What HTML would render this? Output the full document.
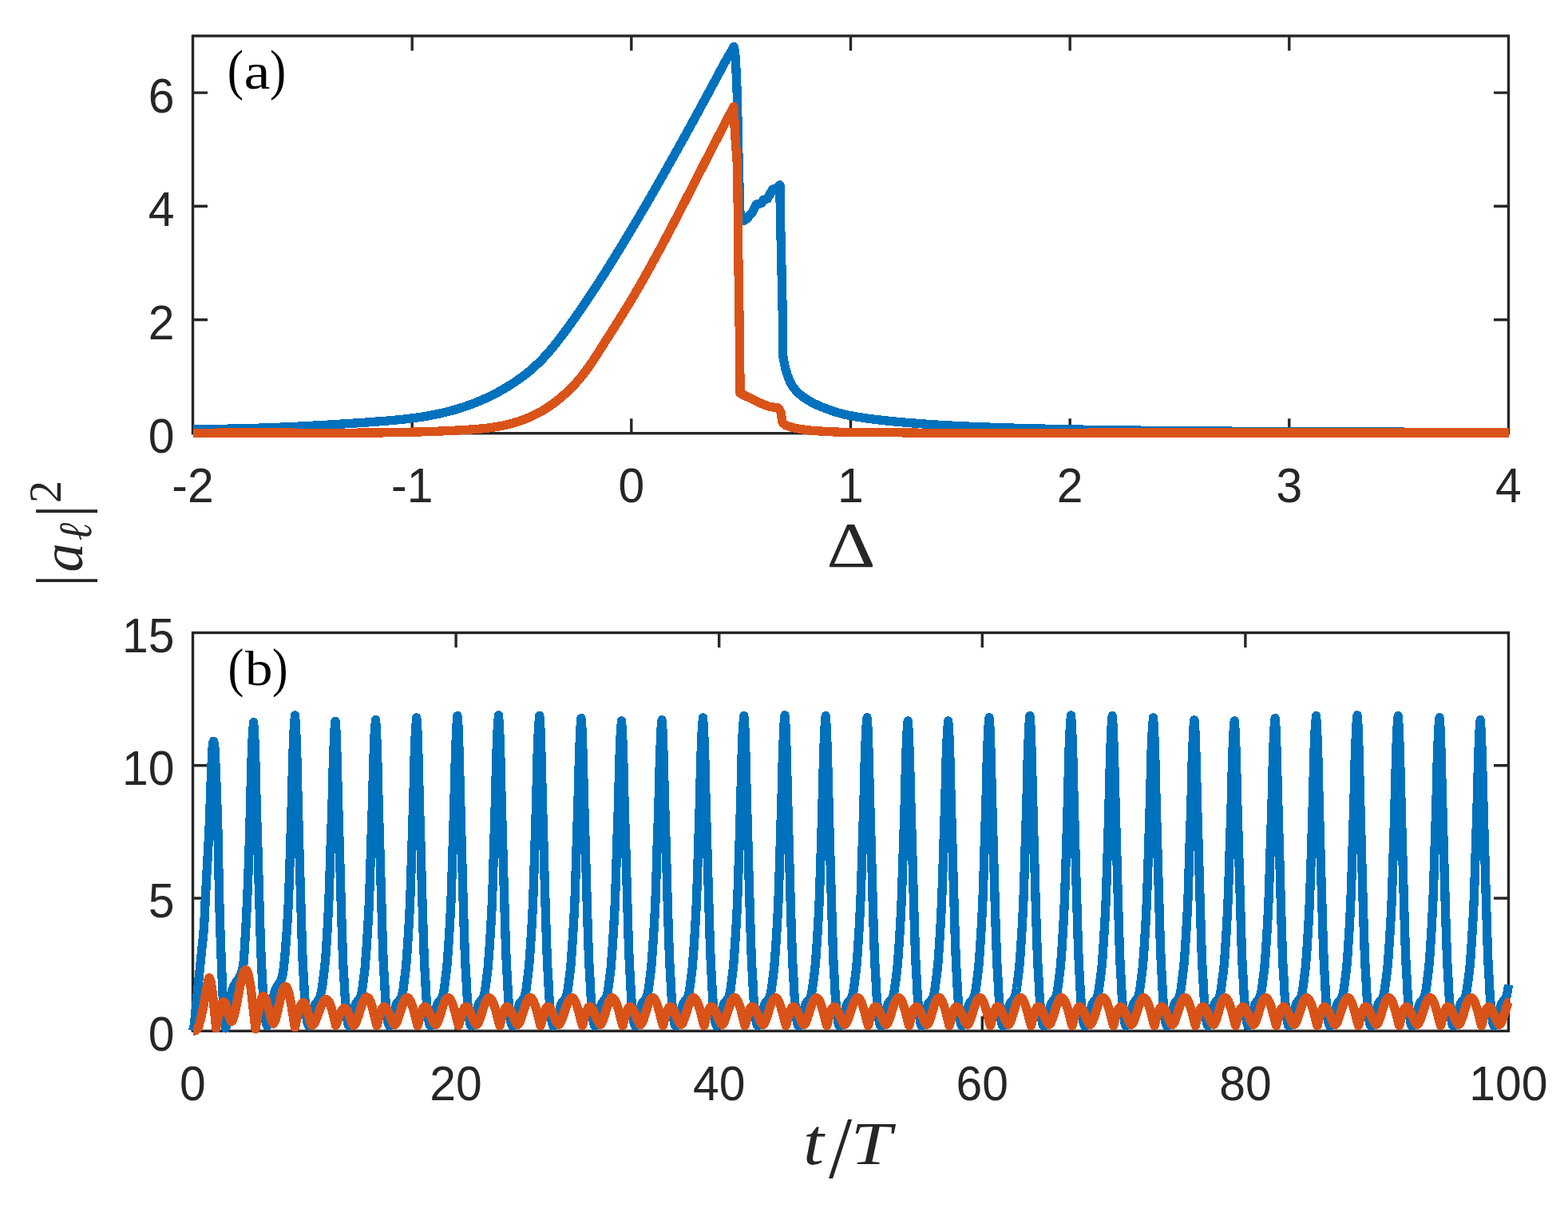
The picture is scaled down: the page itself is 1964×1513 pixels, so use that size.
<!DOCTYPE html>
<html lang="en">
<head>
<meta charset="utf-8">
<title>Figure: |a_l|^2 versus detuning and time</title>
<style>
html,body{margin:0;padding:0;background:#fff;}
body{width:1964px;height:1513px;overflow:hidden;}
svg{display:block;}
.ax{fill:none;stroke:#262626;stroke-width:3.4;stroke-linecap:butt;stroke-linejoin:miter;}
.tk{fill:none;stroke:#262626;stroke-width:3.4;stroke-linecap:butt;}
.c1{fill:none;stroke:#0072BD;stroke-width:11.3;stroke-linejoin:round;stroke-linecap:butt;shape-rendering:crispEdges;}
.c2{fill:none;stroke:#D95319;stroke-width:11.3;stroke-linejoin:round;stroke-linecap:butt;shape-rendering:crispEdges;}
text{fill:#262626;}
.tl{font-family:"Liberation Sans",Arial,Helvetica,sans-serif;font-size:62px;}
.ser{font-family:"Liberation Serif","Times New Roman",serif;}
.it{font-family:"Liberation Serif","Times New Roman",serif;font-style:italic;}
.lab{fill:#000;}
</style>
</head>
<body>
<svg xmlns="http://www.w3.org/2000/svg" width="1964" height="1513" viewBox="0 0 1964 1513">
<rect x="0" y="0" width="1964" height="1513" fill="#ffffff"/>
<g id="axes-a">
<rect class="ax" x="241.5" y="45" width="1648" height="497.7"/>
<path class="tk" d="M516.2,542.7 v-18.5 M516.2,45 v18.5 M790.8,542.7 v-18.5 M790.8,45 v18.5 M1065.5,542.7 v-18.5 M1065.5,45 v18.5 M1340.2,542.7 v-18.5 M1340.2,45 v18.5 M1614.8,542.7 v-18.5 M1614.8,45 v18.5 M241.5,400.5 h18.5 M1889.5,400.5 h-18.5 M241.5,258.3 h18.5 M1889.5,258.3 h-18.5 M241.5,116.1 h18.5 M1889.5,116.1 h-18.5"/>
</g>
<g id="curves-a">
<path class="c1" d="M241.5,537.4 L244.5,537.4 247.5,537.4 250.5,537.4 253.5,537.4 256.5,537.4 259.5,537.4 262.5,537.4 265.5,537.4
268.5,537.4 271.5,537.3 274.5,537.3 277.5,537.3 280.5,537.2 283.5,537.2 286.5,537.1 289.5,537.1 292.5,537
295.5,536.9 298.6,536.9 301.6,536.8 304.6,536.7 307.6,536.7 310.6,536.6 313.6,536.5 316.6,536.4 319.6,536.3
322.6,536.2 325.6,536.1 328.6,536 331.6,535.9 334.6,535.8 337.6,535.7 340.6,535.6 343.6,535.5 346.6,535.3
349.6,535.2 352.6,535.1 355.6,535 358.6,534.8 361.6,534.7 364.6,534.6 367.6,534.4 370.6,534.3 373.6,534.1
376.6,534 379.6,533.8 382.6,533.7 385.6,533.5 388.6,533.3 391.6,533.2 394.6,533 397.6,532.9 400.6,532.7
403.6,532.5 406.6,532.3 409.7,532.2 412.7,532 415.7,531.8 418.7,531.6 421.7,531.4 424.7,531.2 427.7,531.1
430.7,530.9 433.7,530.7 436.7,530.5 439.7,530.3 442.7,530.1 445.7,529.9 448.7,529.7 451.7,529.5 454.7,529.3
457.7,529.1 460.7,528.9 463.7,528.7 466.7,528.4 469.7,528.2 472.7,528 475.7,527.8 478.7,527.6 481.7,527.3
484.7,527.1 487.7,526.8 490.7,526.6 493.7,526.3 496.7,526 499.7,525.7 502.7,525.4 505.7,525.1 508.7,524.8
511.7,524.4 514.7,524 517.7,523.6 520.8,523.2 523.8,522.8 526.8,522.4 529.8,521.9 532.8,521.4 535.8,520.9
538.8,520.4 541.8,519.8 544.8,519.2 547.8,518.6 550.8,517.9 553.8,517.3 556.8,516.6 559.8,515.8 562.8,515.1
565.8,514.3 568.8,513.4 571.8,512.6 574.8,511.7 577.8,510.7 580.8,509.8 583.8,508.7 586.8,507.7 589.8,506.6
592.8,505.5 595.8,504.3 598.8,503.1 601.8,501.8 604.8,500.5 607.8,499.2 610.8,497.8 613.8,496.3 616.8,494.9
619.8,493.3 622.8,491.7 625.8,490.1 628.8,488.4 631.9,486.6 634.9,484.8 637.9,483 640.9,481.1 643.9,479.1
646.9,477.1 649.9,475 652.9,472.8 655.9,470.6 658.9,468.3 661.9,465.9 664.9,463.4 667.9,460.8 670.9,458
673.9,455.2 676.9,452.3 679.9,449.2 682.9,446 685.9,442.6 688.9,439.2 691.9,435.6 694.9,431.9 697.9,428.1
700.9,424.2 703.9,420.3 706.9,416.3 709.9,412.3 712.9,408.2 715.9,404 718.9,399.8 721.9,395.5 724.9,391.2
727.9,386.9 730.9,382.4 733.9,378 736.9,373.5 739.9,369 743,364.4 746,359.8 749,355.1 752,350.5 755,345.8
758,341.1 761,336.3 764,331.5 767,326.7 770,321.9 773,317 776,312.1 779,307.2 782,302.3 785,297.3 788,292.3
791,287.3 794,282.3 797,277.2 800,272.1 803,267 806,261.9 809,256.8 812,251.6 815,246.4 818,241.2 821,236
824,230.7 827,225.5 830,220.2 833,214.9 836,209.5 839,204.2 842,198.9 845,193.5 848,188.1 851,182.7
854.1,177.3 857.1,171.8 860.1,166.4 863.1,160.9 866.1,155.5 869.1,150 872.1,144.5 875.1,139 878.1,133.4
881.1,127.9 884.1,122.4 887.1,116.8 890.1,111.2 893.1,105.7 896.1,100.1 899.1,94.5 902.1,88.9 905.1,83.3
908.1,77.6 914,67.6 919.3,58.4 920.6,66 921.5,78 922.5,98 923.3,119.8 924.2,161.5 925.1,203.2 925.9,230
926.9,265 927.4,276.6 933,276 937.2,271.9 942.2,266.1 947.2,256 953.9,254.4 956.4,250.2 961.4,248.9
967.3,237.7 973.1,235.2 976.9,231.8 977.4,273.5 978.1,298.5 978.5,315 980.4,400 980.6,430 980.8,446.7
983.7,461.3 984.3,463.4 986.7,471.1 989.7,478.4 990.6,480.1 992.7,483.7 995.7,487.7 996.4,488.4 998.7,490.9
1001.7,493.7 1004.7,496.2 1007.7,498.4 1008.1,498.6 1010.7,500.3 1013.7,502.2 1016.7,503.9 1019.7,505.5
1022.7,506.9 1025.7,508.3 1028.2,509.3 1028.7,509.5 1031.7,510.7 1034.7,511.8 1037.7,512.9 1040.7,514
1043.7,515 1046.7,516 1049.7,516.9 1052.7,517.7 1055.7,518.5 1058.7,519.3 1061.7,519.9 1064,520.4 1064.7,520.5
1067.7,521.1 1070.7,521.7 1073.7,522.2 1076.7,522.7 1079.7,523.1 1082.7,523.6 1085.7,524 1088.7,524.4
1091.7,524.8 1094.7,525.2 1097.7,525.5 1100.7,525.9 1103.7,526.2 1106.7,526.6 1109.7,526.9 1112.7,527.2
1115.7,527.5 1118.7,527.8 1121.7,528.1 1124.7,528.4 1127.7,528.6 1130.7,528.9 1133.7,529.2 1136.7,529.4
1139.7,529.7 1142.7,529.9 1145.7,530.1 1147.9,530.3 1148.7,530.3 1151.7,530.6 1154.7,530.8 1157.7,531
1160.7,531.2 1163.7,531.4 1166.7,531.6 1169.7,531.8 1172.7,532 1175.7,532.2 1178.7,532.3 1181.7,532.5
1184.7,532.7 1187.7,532.8 1189.1,532.9 1190.7,533 1193.7,533.2 1196.7,533.3 1199.7,533.5 1202.7,533.6
1205.7,533.8 1208.7,533.9 1211.7,534 1214.7,534.2 1217.7,534.3 1220.7,534.4 1223.7,534.6 1226.7,534.7
1229.7,534.8 1230.3,534.8 1232.7,534.9 1235.7,535 1238.7,535.1 1241.7,535.2 1244.7,535.4 1247.7,535.5
1250.7,535.6 1253.7,535.7 1256.7,535.8 1259.7,535.9 1262.7,535.9 1265.7,536 1268.7,536.1 1271.5,536.2
1274.7,536.3 1277.7,536.4 1280.7,536.5 1283.7,536.5 1286.7,536.6 1289.7,536.7 1292.7,536.8 1295.7,536.9
1298.7,536.9 1301.7,537 1304.7,537.1 1307.7,537.1 1310.7,537.2 1312.7,537.3 1313.7,537.3 1316.7,537.3
1319.7,537.4 1322.7,537.5 1325.7,537.5 1328.7,537.6 1331.7,537.7 1334.7,537.7 1337.7,537.8 1340.7,537.8
1343.7,537.9 1346.6,537.9 1349.6,538 1352.6,538.1 1353.9,538.1 1355.6,538.1 1358.6,538.2 1361.6,538.2
1364.6,538.3 1367.6,538.3 1370.6,538.4 1373.6,538.4 1376.6,538.5 1379.6,538.5 1382.6,538.5 1385.6,538.6
1388.6,538.6 1391.6,538.7 1394.6,538.7 1395.1,538.7 1397.6,538.8 1400.6,538.8 1403.6,538.8 1406.6,538.9
1409.6,538.9 1412.6,539 1415.6,539 1418.6,539 1421.6,539.1 1424.6,539.1 1427.6,539.1 1430.6,539.2 1433.6,539.2
1436.3,539.2 1439.6,539.3 1442.6,539.3 1445.6,539.3 1448.6,539.4 1451.6,539.4 1454.6,539.4 1457.6,539.5
1460.6,539.5 1463.6,539.5 1466.6,539.5 1469.6,539.6 1472.6,539.6 1475.6,539.6 1477.5,539.6 1478.6,539.7
1481.6,539.7 1484.6,539.7 1487.6,539.7 1490.6,539.8 1493.6,539.8 1496.6,539.8 1499.6,539.8 1502.6,539.9
1505.6,539.9 1508.6,539.9 1511.6,539.9 1514.6,540 1517.6,540 1518.7,540 1520.6,540 1523.6,540 1526.6,540
1529.6,540.1 1532.6,540.1 1535.6,540.1 1538.6,540.1 1541.6,540.1 1544.6,540.2 1547.6,540.2 1550.6,540.2
1553.6,540.2 1556.6,540.2 1559.9,540.3 1562.6,540.3 1565.6,540.3 1568.6,540.3 1571.6,540.3 1574.6,540.3
1577.6,540.4 1580.6,540.4 1583.6,540.4 1586.6,540.4 1589.6,540.4 1592.6,540.4 1595.6,540.5 1598.6,540.5
1601.1,540.5 1601.6,540.5 1604.6,540.5 1607.6,540.5 1610.6,540.5 1613.6,540.5 1616.6,540.6 1619.6,540.6
1622.6,540.6 1625.6,540.6 1628.6,540.6 1631.6,540.6 1634.6,540.6 1637.6,540.6 1640.6,540.7 1642.3,540.7
1643.6,540.7 1646.6,540.7 1649.6,540.7 1652.6,540.7 1655.6,540.7 1658.6,540.7 1661.6,540.8 1664.6,540.8
1667.6,540.8 1670.6,540.8 1673.6,540.8 1676.6,540.8 1679.6,540.8 1682.6,540.8 1683.5,540.8 1685.6,540.9
1688.6,540.9 1691.6,540.9 1694.6,540.9 1697.6,540.9 1700.6,540.9 1703.6,540.9 1706.6,540.9 1709.5,541
1712.5,541 1715.5,541 1718.5,541 1721.5,541 1724.7,541 1727.5,541 1730.5,541 1733.5,541.1 1736.5,541.1
1739.5,541.1 1742.5,541.1 1745.5,541.1 1748.5,541.1 1751.5,541.1 1754.5,541.1 1757.5,541.1 1760.5,541.2
1763.5,541.2 1765.9,541.2 1766.5,541.2 1769.5,541.2 1772.5,541.2 1775.5,541.2 1778.5,541.2 1781.5,541.2
1784.5,541.2 1787.5,541.3 1790.5,541.3 1793.5,541.3 1796.5,541.3 1799.5,541.3 1802.5,541.3 1805.5,541.3
1807.1,541.3 1808.5,541.3 1811.5,541.3 1814.5,541.3 1817.5,541.3 1820.5,541.4 1823.5,541.4 1826.5,541.4
1829.5,541.4 1832.5,541.4 1835.5,541.4 1838.5,541.4 1841.5,541.4 1844.5,541.4 1847.5,541.4 1848.3,541.4
1850.5,541.4 1853.5,541.5 1856.5,541.5 1859.5,541.5 1862.5,541.5 1865.5,541.5 1868.5,541.5 1871.5,541.5
1874.5,541.5 1877.5,541.5 1880.5,541.5 1883.5,541.5 1886.5,541.5 1889.5,541.5 1889.5,541.5"/>
<path class="c2" d="M241.5,542.4 L244.5,542.4 247.5,542.4 250.5,542.3 253.5,542.3 256.5,542.3 259.5,542.2 262.5,542.2 265.5,542.2
268.5,542.2 271.5,542.1 274.5,542.1 277.5,542.1 280.5,542.1 283.5,542.1 286.5,542.1 289.5,542.1 292.5,542
295.5,542 298.5,542 301.5,542 304.5,542 307.5,542 310.5,542 313.5,542 316.5,542 319.5,542 322.5,542 325.5,542
328.5,542 331.5,542 334.5,542 337.5,542.1 340.5,542.1 343.5,542.1 346.5,542.1 349.5,542.1 352.5,542.1
355.5,542.1 358.5,542.1 361.5,542.1 364.5,542.1 367.5,542.1 370.5,542.2 373.5,542.2 376.5,542.2 379.5,542.2
382.5,542.2 385.5,542.2 388.5,542.2 391.5,542.2 394.5,542.2 397.5,542.2 400.5,542.2 403.5,542.2 406.5,542.2
409.5,542.2 412.5,542.2 415.5,542.2 418.5,542.2 421.5,542.2 424.5,542.2 427.5,542.2 430.5,542.2 433.5,542.2
436.5,542.2 439.5,542.2 442.5,542.2 445.5,542.2 448.5,542.1 451.5,542.1 454.5,542.1 457.5,542.1 460.5,542.1
463.5,542 466.5,542 469.5,542 472.5,542 475.5,541.9 478.5,541.9 481.5,541.8 484.5,541.8 487.5,541.8
490.5,541.7 493.5,541.7 496.5,541.6 499.5,541.6 502.5,541.5 505.5,541.4 508.5,541.4 511.5,541.3 514.5,541.2
517.5,541.1 520.5,541.1 523.5,541 526.5,540.9 529.5,540.8 532.5,540.7 535.5,540.6 538.5,540.5 541.5,540.4
544.5,540.3 547.5,540.2 550.5,540.1 553.5,539.9 556.5,539.8 559.5,539.7 562.5,539.5 565.5,539.4 568.5,539.2
571.5,539.1 574.4,538.9 577.4,538.8 580.4,538.6 583.4,538.4 586.4,538.2 589.4,538 592.4,537.8 595.4,537.6
598.4,537.3 601.4,537.1 604.4,536.8 607.4,536.5 610.4,536.1 613.4,535.8 616.4,535.3 619.4,534.9 622.4,534.4
625.4,533.9 628.4,533.3 631.4,532.7 634.4,532 637.4,531.3 640.4,530.5 643.4,529.7 646.4,528.8 649.4,527.9
652.4,526.8 655.4,525.8 658.4,524.6 661.4,523.4 664.4,522.1 667.4,520.7 670.4,519.2 673.4,517.7 676.4,516.1
679.4,514.4 682.4,512.6 685.4,510.7 688.4,508.7 691.4,506.6 694.4,504.4 697.4,502.1 700.4,499.7 703.4,497.2
706.4,494.6 709.4,491.9 712.4,489 715.4,486 718.4,482.9 721.4,479.7 724.4,476.3 727.4,472.7 730.4,469
733.4,465.1 736.4,461 739.4,456.8 742.4,452.4 745.4,447.8 748.4,443.1 751.4,438.4 754.4,433.7 757.4,428.9
760.4,424.2 763.4,419.5 766.4,414.8 769.4,410.1 772.4,405.3 775.4,400.5 778.4,395.7 781.4,390.9 784.4,386
787.4,381.1 790.4,376.1 793.4,371.1 796.4,366 799.4,360.9 802.4,355.7 805.4,350.4 808.4,345.1 811.4,339.8
814.4,334.4 817.4,328.9 820.4,323.4 823.4,317.9 826.4,312.4 829.4,306.7 832.4,301.1 835.4,295.4 838.4,289.7
841.4,284 844.4,278.3 847.4,272.5 850.4,266.7 853.4,260.9 856.4,255.1 859.4,249.2 862.4,243.4 865.4,237.5
868.4,231.7 871.4,225.8 874.4,219.9 877.4,214.1 880.4,208.2 883.4,202.3 886.4,196.5 889.4,190.6 892.4,184.8
895.4,179 898.4,173.2 901.4,167.4 904.4,161.6 912.5,146 919,133.6 919.8,148 920.2,161.5 923.2,203.2 923.9,237
924.7,290 924.7,315 926.5,430 926.9,472 926.9,492.3 930,494 951,504.3 963.8,509.3 975,511 978.1,516.8
980.2,529.4 983.5,532.3 987.5,533.8 991.5,535.1 995.5,536.1 996,536.2 999.5,536.9 1003.5,537.6 1007.6,538.2
1011.6,538.7 1015.6,539.1 1019.6,539.5 1021.1,539.6 1023.6,539.8 1027.6,540 1031.6,540.3 1035.6,540.5
1039.6,540.7 1043.6,540.9 1047.6,541 1051.7,541.2 1055.7,541.3 1059.7,541.3 1064,541.4 1067.7,541.4
1071.7,541.5 1075.7,541.5 1079.7,541.5 1083.7,541.5 1087.7,541.5 1091.7,541.5 1095.7,541.5 1099.8,541.5
1103.8,541.6 1107.8,541.6 1110,541.6 1111.8,541.6 1115.8,541.7 1119.8,541.7 1123.8,541.8 1127.8,541.8
1131.8,541.9 1135.8,542 1139.8,542 1143.9,542.1 1147.9,542.1 1151.9,542.2 1155.9,542.2 1160,542.2 1163.9,542.2
1167.9,542.2 1171.9,542.2 1175.9,542.2 1179.9,542.2 1183.9,542.2 1188,542.2 1192,542.2 1196,542.2 1200,542.2
1204,542.2 1208,542.2 1212,542.2 1216,542.2 1220,542.2 1224,542.2 1228,542.2 1232,542.2 1236.1,542.2
1240.1,542.2 1244.1,542.2 1248.1,542.2 1252.1,542.2 1256.1,542.2 1260.1,542.2 1264.1,542.2 1268.1,542.2
1272.1,542.2 1276.1,542.2 1280.2,542.2 1284.2,542.2 1288.2,542.2 1292.2,542.2 1296.2,542.2 1300.2,542.2
1304.2,542.2 1308.2,542.2 1312.2,542.2 1316.2,542.2 1320.2,542.2 1324.3,542.2 1328.3,542.2 1332.3,542.2
1336.3,542.2 1340.3,542.2 1344.3,542.2 1348.3,542.2 1352.3,542.2 1356.3,542.2 1360.3,542.2 1364.3,542.1
1368.3,542.1 1372.4,542.1 1376.4,542.1 1380.4,542.1 1384.4,542.1 1388.4,542.1 1392.4,542.1 1396.4,542.1
1400.4,542.1 1404.4,542.1 1408.4,542.1 1412.4,542.1 1416.5,542.1 1420.5,542.1 1424.5,542.1 1428.5,542.1
1432.5,542.1 1436.5,542.1 1440.5,542.1 1444.5,542.1 1448.5,542.1 1452.5,542.1 1456.5,542.1 1460.6,542.1
1464.6,542.1 1468.6,542.1 1472.6,542.1 1476.6,542.1 1480.6,542.1 1484.6,542.1 1488.6,542.1 1492.6,542.1
1496.6,542.1 1500,542.1 1500.6,542.1 1504.7,542.1 1508.7,542.1 1512.7,542.1 1516.7,542.1 1520.7,542.1
1524.7,542.1 1528.7,542.1 1532.7,542.1 1536.7,542.1 1540.7,542.1 1544.7,542.1 1548.7,542.1 1552.8,542.1
1556.8,542.1 1560.8,542.1 1564.8,542.1 1568.8,542.1 1572.8,542.1 1576.8,542.1 1580.8,542.1 1584.8,542.1
1588.8,542.1 1592.8,542.1 1596.9,542.1 1600.9,542.1 1604.9,542.1 1608.9,542.1 1612.9,542.1 1616.9,542.1
1620.9,542.1 1624.9,542.1 1628.9,542.1 1632.9,542.1 1636.9,542.1 1641,542.1 1645,542.1 1649,542.1 1653,542.1
1657,542.1 1661,542.1 1665,542.1 1669,542.1 1673,542.1 1677,542.1 1681,542.1 1685,542.1 1689.1,542 1693.1,542
1697.1,542 1701.1,542 1705.1,542 1709.1,542 1713.1,542 1717.1,542 1721.1,542 1725.1,542 1729.1,542 1733.2,542
1737.2,542 1741.2,542 1745.2,542 1749.2,542 1753.2,542 1757.2,542 1761.2,542 1765.2,542 1769.2,542 1773.2,542
1777.3,542 1781.3,542 1785.3,542 1789.3,542 1793.3,542 1797.3,542 1801.3,542 1805.3,542 1809.3,542 1813.3,542
1817.3,542 1821.3,542 1825.4,542 1829.4,542 1833.4,542 1837.4,542 1841.4,542 1845.4,542 1849.4,542 1853.4,542
1857.4,542 1861.4,542 1865.4,542 1869.5,542 1873.5,542 1877.5,542 1881.5,542 1885.5,542 1889.5,542"/>
</g>
<g id="axes-b">
<rect class="ax" x="241.5" y="792.5" width="1648" height="498.8"/>
<path class="tk" d="M571.1,1291.2 v-18.5 M571.1,792.5 v18.5 M900.7,1291.2 v-18.5 M900.7,792.5 v18.5 M1230.3,1291.2 v-18.5 M1230.3,792.5 v18.5 M1559.9,1291.2 v-18.5 M1559.9,792.5 v18.5 M241.5,1125 h18.5 M1889.5,1125 h-18.5 M241.5,958.8 h18.5 M1889.5,958.8 h-18.5"/>
</g>
<g id="curves-b">
<path class="c1" d="M241.5,1291.2 L242.5,1288.1 243.1,1284.9 243.5,1282.1 244.5,1271.6 245,1266.3 245.5,1261.4 246.5,1251.4
247.5,1241.4 248.5,1231.4 249.4,1222.4 250.5,1211.5 251.5,1201.5 252.5,1191.5 253.5,1182.2 254.5,1172.9
255.6,1159.9 256.5,1142.5 257.3,1125 258.5,1102.7 259.5,1084.8 260.5,1066.7 260.9,1059.2 261.5,1047.9
262.3,1031.2 263.6,994.7 264.5,970.4 265.1,956.8 265.5,947.5 266.4,931.8 267.5,928.2 268.6,931.8 269.5,947.5
269.9,956.8 270.5,970.4 271.4,994.7 272.7,1031.2 273.5,1069.8 274,1095.1 274.5,1117.3 275.2,1145 276.5,1183.7
277.5,1209.1 278.5,1234.3 279.5,1254.7 280.5,1270.1 281.5,1282.7 282.5,1287.9 283.5,1285.8 284.5,1280.3
285.5,1273.2 286.5,1266.1 287,1263 287.5,1260 288.5,1253.3 289.5,1246.8 290.5,1241.5 291,1239.7 291.5,1238.3
292.5,1235.9 293.5,1233.9 294.5,1232.2 295.5,1230.7 296.5,1229.1 297.5,1227.6 298.5,1226.3 299.5,1224.9
300.5,1223.1 301.5,1220.9 302.5,1218.3 303.5,1214.9 304.7,1209.1 305.5,1201.3 306.5,1185.4 307.3,1171.5
308.5,1150 309.7,1125 310.5,1106 311.5,1079.3 312.2,1058.5 313.7,1005 314.5,971.3 315,954.8 315.5,939.1
316.4,919.5 317.6,904.6 318.6,918.5 319.5,943 319.9,954.8 320.5,980.6 321.1,1005 321.5,1018.4 322.8,1058.5
323.5,1082.8 324.5,1118.3 324.9,1130 325.5,1151.4 326.5,1183.5 327.6,1210.1 328.6,1226.7 329.4,1243.4
330.4,1256 331.5,1269.6 332.1,1274.6 332.5,1277.1 333.5,1282.4 334.6,1284.9 335.5,1283.8 336.5,1280.4
337.5,1275.9 338.5,1271.3 339.5,1265.9 340.5,1259.4 341.5,1253 342.5,1248 343.5,1244.4 344.5,1241.3
345.5,1238.6 346.5,1236.4 347.5,1234.7 348.5,1233.4 349.5,1232.2 350.5,1230.7 351,1229.7 351.5,1228.6
352.5,1226 353.5,1222.6 354.5,1218.1 355.5,1210.8 356.5,1200.5 357,1194.8 357.5,1189.1 358.5,1176.5
359.5,1162.2 360.5,1145.5 361.3,1130 362.5,1097.4 363.7,1058.5 364.5,1033.4 365.6,996.3 366.5,958.7
366.9,946.1 367.5,927.8 368.3,910.9 369.5,895.9 370.5,909.9 371.8,946.1 372.5,975.8 373,996.3 373.5,1015.1
374.7,1058.5 375.5,1087.2 376.8,1130 377.5,1154.7 378.5,1186.4 379.4,1210.1 380.5,1226.7 381.3,1243.4
382.2,1256 383.5,1270.6 384,1274.6 384.5,1277.6 385.5,1282.8 386.5,1284.9 387.5,1282.7 388.5,1278.3 389,1276.3
389.5,1274.4 390.5,1270.2 391.5,1266.1 392.5,1262.6 393,1261.3 393.5,1260.3 394.5,1258.6 395.5,1257.2
396.5,1255.9 397.8,1254 398.5,1252.8 399.5,1251.2 400.5,1249.3 401,1248 401.5,1246.4 402.5,1241.9 403.2,1238
404.5,1228.8 405,1224.8 405.5,1220.8 406.5,1212.7 407.3,1204.8 408.5,1189.7 409.5,1174.4 410.5,1156.6
411.8,1130 412.5,1111.8 413.5,1080.3 414.2,1058.5 415.5,1022.3 416.1,1003.6 416.5,987.9 417.4,953.4
418.8,918.2 419.5,906.9 420,903.2 420.5,907.9 421,917.2 421.5,929.3 422.2,953.4 423.5,1003.6 424.5,1036.2
425.2,1058.5 426.5,1104.4 427.2,1130 428.5,1171.1 429.5,1200 429.9,1210.1 430.5,1219 431,1226.7 431.8,1243.4
432.8,1256 433.5,1265.1 434.5,1274.6 435.5,1280.4 436.5,1284.3 437,1284.9 437.5,1284.7 438.5,1282.8
439.5,1280.3 440.5,1276.8 441.5,1272.2 442.5,1268 443.5,1264.2 444.5,1260.5 445.5,1257.5 445.9,1256.7
446.5,1255.7 447.5,1254.5 448.5,1253.4 449.2,1252.5 450.5,1250.7 451.7,1248.4 452.5,1245.6 453.5,1240.7
454.5,1233.5 455.2,1227.7 456.5,1217.9 457.3,1210.8 458.1,1200.1 458.5,1195.3 459.5,1181 460.5,1165.3
461.5,1147.5 462.4,1130 463.5,1097.4 464.7,1058.5 465.5,1035.5 466.6,1002 467.5,964.5 467.9,951.8 468.5,933.5
469.3,916.5 470.5,901.6 471.5,915.5 472.8,951.8 473.5,981.8 474,1002 474.5,1019.3 475.7,1058.5 476.5,1086.7
477.8,1130 478.5,1154.7 479.5,1186.4 480.4,1210.1 481.5,1226.7 482.3,1243.4 483.2,1256 484.5,1270.6 485,1274.6
485.5,1277.6 486.5,1282.8 487.5,1284.9 488.5,1284.3 489.5,1282.8 490.8,1280.3 491.5,1278 492.5,1273.5
493.8,1268 494.5,1265.1 495.5,1261.4 496.5,1258.2 497.1,1256.7 497.5,1256.1 498.5,1254.8 499.5,1253.7
500.4,1252.5 501.5,1251 502.5,1249.4 502.9,1248.4 503.5,1246.6 504.8,1240.7 505.5,1235.5 506.4,1227.7
507.5,1219.9 508.6,1210.8 509.4,1200.1 510.5,1184.6 511.5,1169.4 512.5,1152.2 513.6,1130 514.5,1105.5
515.5,1072.9 516,1058.5 516.5,1041.9 517.5,1011.2 517.9,999.3 518.5,972.3 519.1,949.1 519.5,937.5 520.5,913.9
521.8,898.9 522.8,912.9 523.5,932.5 524,949.1 524.5,968.4 525.2,999.3 526.5,1043.1 527,1058.5 527.5,1078
528.5,1113.3 529,1130 529.5,1146.4 530.5,1178.9 531.7,1210.1 532.8,1226.7 533.5,1243.4 534.5,1256 535.5,1268
536.2,1274.6 537.5,1281.7 538.8,1284.9 539.5,1284.6 540.5,1283.3 541.5,1281.3 542,1280.3 542.5,1278.9
543.5,1274.7 544.5,1270 545,1268 545.5,1266.1 546.5,1262.3 547.5,1258.9 548.4,1256.7 549.5,1255.1 550.5,1254
551.7,1252.5 552.5,1251.4 553.5,1249.8 554.2,1248.4 555.5,1243.3 556,1240.7 556.5,1237.5 557.7,1227.7
558.5,1221.7 559.8,1210.8 560.6,1200.1 561.5,1188.2 562.5,1173.4 563.5,1156.8 564.5,1137.5 564.9,1130
565.5,1113.1 566.5,1081.3 567.2,1058.5 568.5,1017.6 569.1,997 569.5,980.8 570.4,946.8 571.8,911.5 572.5,900.2
573,896.6 573.5,901.2 574,910.5 574.5,922.6 575.2,946.8 576.5,997 577.5,1033.7 578.2,1058.5 579.5,1104.8
580.2,1130 581.5,1171.1 582.5,1200 583,1210.1 583.5,1219 584,1226.7 584.8,1243.4 585.8,1256 586.5,1265.1
587.5,1274.6 588.5,1280.4 589.5,1284.3 590,1284.9 590.5,1284.8 591.5,1283.8 592.5,1282.2 593.5,1280.3
594.5,1277 595.5,1272.3 596.5,1268 597.5,1264.2 598.5,1260.5 599.5,1257.5 599.9,1256.7 600.5,1255.7
601.5,1254.5 602.5,1253.4 603.2,1252.5 604.5,1250.7 605.7,1248.4 606.5,1245.6 607.5,1240.7 608.5,1233.5
609.2,1227.7 610.5,1217.9 611.3,1210.8 612.1,1200.1 612.5,1195.3 613.5,1181 614.5,1165.3 615.5,1147.5
616.4,1130 617.5,1097.8 618.7,1058.5 619.5,1033.3 620.6,996.3 621.5,958.7 621.9,946.1 622.5,927.8 623.3,910.9
624.5,895.9 625.5,909.9 626.8,946.1 627.5,975.8 628,996.3 628.5,1015.1 629.7,1058.5 630.5,1087.2 631.8,1130
632.5,1154.7 633.5,1186.4 634.5,1210.1 635.5,1226.7 636.3,1243.4 637.2,1256 638.5,1270.6 639,1274.6
639.5,1277.6 640.5,1282.8 641.5,1284.9 642.5,1284.3 643.5,1282.8 644.8,1280.3 645.5,1278 646.5,1273.5
647.8,1268 648.5,1265.1 649.5,1261.4 650.5,1258.2 651.1,1256.7 651.5,1256.1 652.5,1254.8 653.5,1253.7
654.5,1252.5 655.5,1251 656.5,1249.4 657,1248.4 657.5,1246.6 658.8,1240.7 659.5,1235.5 660.5,1227.7
661.5,1219.9 662.5,1210.8 663.4,1200.1 664.5,1184.6 665.5,1169.4 666.5,1152.2 667.6,1130 668.5,1105.7
669.5,1073.1 670,1058.5 670.5,1041.3 671.5,1009 671.9,996.7 672.5,969.6 673.1,946.4 673.5,934.8 674.5,911.2
675.8,896.2 676.8,910.2 677.5,929.9 678,946.4 678.5,965.6 679.2,996.7 680.5,1042.5 681,1058.5 681.5,1078.2
682.5,1113.4 683,1130 683.5,1146.4 684.5,1178.9 685.7,1210.1 686.8,1226.7 687.5,1243.4 688.5,1256 689.5,1268
690.2,1274.6 691.5,1281.7 692.8,1284.9 693.5,1284.7 694.5,1284 695.5,1282.7 696.5,1281.2 697,1280.3 697.5,1279
698.5,1274.8 699.5,1270 700,1268 700.5,1266.1 701.5,1262.3 702.5,1258.9 703.4,1256.7 704.5,1255.1 705.5,1254
706.7,1252.5 707.5,1251.4 708.5,1249.8 709.2,1248.4 710.5,1243.3 711,1240.7 711.5,1237.5 712.7,1227.7
713.5,1221.7 714.8,1210.8 715.6,1200.1 716.5,1188.2 717.5,1173.4 718.5,1156.8 719.5,1137.5 719.9,1130
720.5,1113 721.5,1081.1 722.2,1058.5 723.5,1019.7 724.1,1000 724.5,984 725.4,949.8 726.8,914.5 727.5,903.2
728,899.6 728.5,904.2 729,913.5 729.5,925.6 730.2,949.8 731.5,1000 732.5,1034.8 733.2,1058.5 734.5,1104.6
735.2,1130 736.5,1171.1 737.5,1200 738,1210.1 738.5,1219 739,1226.7 739.8,1243.4 740.8,1256 741.5,1265.1
742.5,1274.6 743.5,1280.4 744.5,1284.3 745,1284.9 745.5,1284.7 746.5,1282.8 747.5,1280.3 748.5,1276.8
749.5,1272.2 750.5,1268 751.5,1264.2 752.5,1260.5 753.5,1257.5 753.9,1256.7 754.5,1255.7 755.5,1254.5
756.5,1253.4 757.2,1252.5 758.5,1250.7 759.7,1248.4 760.5,1245.6 761.5,1240.7 762.5,1233.5 763.2,1227.7
764.5,1217.9 765.3,1210.8 766.1,1200.1 766.5,1195.3 767.5,1181 768.5,1165.3 769.5,1147.5 770.4,1130
771.5,1097.3 772.7,1058.5 773.5,1036.1 774.6,1003.3 775.5,965.8 775.9,953.1 776.5,934.8 777.3,917.9
778.5,902.9 779.5,916.9 780.8,953.1 781.5,983.2 782,1003.3 782.5,1020.3 783.7,1058.5 784.5,1086.5 785.8,1130
786.5,1154.7 787.5,1186.4 788.5,1210.1 789.5,1226.7 790.3,1243.4 791.2,1256 792.5,1270.6 793,1274.6
793.5,1277.6 794.5,1282.8 795.5,1284.9 796.5,1283.9 797.5,1281.6 798,1280.3 798.5,1278.7 799.5,1274.6
800.5,1270 801,1268 801.5,1266.1 802.5,1262.3 803.5,1258.9 804.4,1256.7 805.5,1255.1 806.5,1254 807.7,1252.5
808.5,1251.4 809.5,1249.8 810.2,1248.4 811.5,1243.3 812,1240.7 812.5,1237.5 813.7,1227.7 814.5,1221.7
815.8,1210.8 816.6,1200.1 817.5,1188.2 818.5,1173.4 819.5,1156.8 820.5,1137.5 820.9,1130 821.5,1113
822.5,1080.8 823.2,1058.5 824.5,1021.4 825.1,1002.3 825.5,986.5 826.4,952.1 827.8,916.9 828.5,905.5 829,901.9
829.5,906.5 830,915.9 830.5,927.9 831.2,952.1 832.5,1002.3 833.5,1035.7 834.2,1058.5 835.5,1104.5 836.2,1130
837.5,1171.1 838.5,1200 839,1210.1 839.5,1219 840,1226.7 840.8,1243.4 841.8,1256 842.5,1265.1 843.5,1274.6
844.5,1280.4 845.5,1284.3 846,1284.9 846.5,1284.8 847.5,1283.8 848.5,1282.2 849.5,1280.3 850.5,1277
851.5,1272.3 852.5,1268 853.5,1264.2 854.5,1260.5 855.5,1257.5 855.9,1256.7 856.5,1255.7 857.5,1254.5
858.5,1253.4 859.2,1252.5 860.5,1250.7 861.7,1248.4 862.5,1245.6 863.5,1240.7 864.5,1233.5 865.2,1227.7
866.5,1217.9 867.3,1210.8 868.1,1200.1 868.5,1195.3 869.5,1181 870.5,1165.3 871.5,1147.5 872.4,1130
873.5,1097.6 874.7,1058.5 875.5,1034.5 876.6,999.3 877.5,961.7 877.9,949.1 878.5,930.8 879.3,913.9 880.5,898.9
881.5,912.9 882.8,949.1 883.5,978.9 884,999.3 884.5,1017.4 885.7,1058.5 886.5,1086.9 887.8,1130 888.5,1154.7
889.5,1186.4 890.5,1210.1 891.5,1226.7 892.3,1243.4 893.2,1256 894.5,1270.6 895,1274.6 895.5,1277.6
896.5,1282.8 897.5,1284.9 898.5,1284.3 899.5,1282.8 900.8,1280.3 901.5,1278 902.5,1273.5 903.8,1268
904.5,1265.1 905.5,1261.4 906.5,1258.2 907.1,1256.7 907.5,1256.1 908.5,1254.8 909.5,1253.7 910.5,1252.5
911.5,1251 912.5,1249.4 913,1248.4 913.5,1246.6 914.8,1240.7 915.5,1235.5 916.5,1227.7 917.5,1219.9
918.5,1210.8 919.4,1200.1 920.5,1184.6 921.5,1169.4 922.5,1152.2 923.6,1130 924.5,1105.6 925.5,1073.1
926,1058.5 926.5,1041.4 927.5,1009.2 927.9,997 928.5,969.9 929.1,946.8 929.5,935.1 930.5,911.5 931.8,896.6
932.8,910.5 933.5,930.2 934,946.8 934.5,965.9 935.2,997 936.5,1042.5 937,1058.5 937.5,1078.2 938.5,1113.4
939,1130 939.5,1146.4 940.5,1178.9 941.7,1210.1 942.8,1226.7 943.5,1243.4 944.5,1256 945.5,1268 946.2,1274.6
947.5,1281.7 948.8,1284.9 949.5,1284.6 950.5,1283.3 951.5,1281.3 952,1280.3 952.5,1278.9 953.5,1274.7
954.5,1270 955,1268 955.5,1266.1 956.5,1262.3 957.5,1258.9 958.4,1256.7 959.5,1255.1 960.5,1254 961.7,1252.5
962.5,1251.4 963.5,1249.8 964.2,1248.4 965.5,1243.3 966,1240.7 966.5,1237.5 967.7,1227.7 968.5,1221.7
969.8,1210.8 970.6,1200.1 971.5,1188.2 972.5,1173.4 973.5,1156.8 974.5,1137.5 974.9,1130 975.5,1113.2
976.5,1081.4 977.2,1058.5 978.5,1017.1 979.1,996.3 979.5,980.1 980.4,946.1 981.8,910.9 982.5,899.6 983,895.9
983.5,900.6 984,909.9 984.5,921.9 985.2,946.1 986.5,996.3 987.5,1033.4 988.2,1058.5 989.5,1104.8 990.2,1130
991.5,1171.1 992.5,1200 993,1210.1 993.5,1219 994,1226.7 994.8,1243.4 995.8,1256 996.5,1265.1 997.5,1274.6
998.5,1280.4 999.5,1284.3 1000,1284.9 1000.5,1284.8 1001.5,1283.7 1002.5,1281.9 1003.2,1280.3 1004.5,1275.9
1005.5,1271.1 1006.2,1268 1007.5,1263.2 1008.5,1259.6 1009.6,1256.7 1010.5,1255.4 1011.5,1254.2 1012.5,1253.1
1013,1252.5 1013.5,1251.7 1014.5,1250.3 1015.5,1248.4 1016.5,1244.5 1017.2,1240.7 1018.5,1231.4 1019,1227.7
1019.5,1223.6 1020.5,1215.9 1021,1210.8 1021.5,1205.5 1021.9,1200.1 1022.5,1191.8 1023.5,1177.2 1024.5,1161.1
1025.5,1142.6 1026.1,1130 1026.5,1120.1 1027.5,1089.6 1028.5,1058.5 1029.5,1025.7 1030.3,997 1031.6,946.8
1032.5,922.4 1033,911.5 1033.5,903.9 1034.2,896.6 1035.2,910.5 1036.5,946.8 1037.8,997 1038.5,1024.7
1039.5,1058.5 1040.5,1096 1041.5,1130 1042.5,1163 1043.5,1193.5 1044.2,1210.1 1045.2,1226.7 1046,1243.4
1046.5,1249.9 1047,1256 1047.5,1262.1 1048.8,1274.6 1049.5,1279.1 1050.5,1283.7 1051.2,1284.9 1052.5,1284.3
1053.5,1283 1054.5,1281.2 1055,1280.3 1055.5,1278.9 1056.5,1274.8 1057.5,1270 1058,1268 1058.5,1266.1
1059.5,1262.3 1060.5,1258.9 1061.4,1256.7 1062.5,1255.1 1063.5,1254 1064.7,1252.5 1065.5,1251.4 1066.5,1249.8
1067.2,1248.4 1068.5,1243.3 1069,1240.7 1069.5,1237.5 1070.7,1227.7 1071.5,1221.7 1072.8,1210.8 1073.7,1200.1
1074.5,1188.2 1075.5,1173.4 1076.5,1156.8 1077.8,1130 1078.5,1113.1 1079.5,1081.1 1080.2,1058.5 1081.5,1019.2
1082.1,999.3 1082.5,983.3 1083.3,949.1 1084.8,913.9 1085.5,902.5 1086,898.9 1086.5,903.6 1087,912.9
1087.5,924.9 1088.2,949.1 1089.5,999.3 1090.5,1034.6 1091.2,1058.5 1092.5,1104.6 1093.2,1130 1094.5,1171.1
1095.5,1200 1096,1210.1 1096.5,1219 1097,1226.7 1097.8,1243.4 1098.8,1256 1099.5,1265.1 1100.5,1274.6
1101.5,1280.4 1102.5,1284.3 1103,1284.9 1103.5,1284.8 1104.5,1283.7 1105.5,1281.9 1106.2,1280.3 1107.5,1275.9
1108.5,1271.1 1109.2,1268 1110.5,1263.2 1111.5,1259.6 1112.7,1256.7 1113.5,1255.4 1114.5,1254.2 1115.5,1253.1
1116,1252.5 1116.5,1251.7 1117.5,1250.3 1118.5,1248.4 1119.5,1244.5 1120.2,1240.7 1121.5,1231.4 1122,1227.7
1122.5,1223.6 1123.5,1215.9 1124,1210.8 1124.5,1205.5 1124.9,1200.1 1125.5,1191.8 1126.5,1177.2 1127.5,1161.1
1128.5,1142.6 1129.1,1130 1129.5,1120 1130.5,1089 1131.5,1058.5 1132.5,1029.2 1133.3,1003.3 1134.6,953.1
1135.5,928.7 1136,917.9 1136.5,910.2 1137.2,902.9 1138.2,916.9 1139.5,953.1 1140.8,1003.3 1141.5,1028.3
1142.5,1058.5 1143.5,1095.5 1144.5,1130 1145.5,1163 1146.5,1193.5 1147.2,1210.1 1148.2,1226.7 1149,1243.4
1149.5,1249.9 1150,1256 1150.5,1262.1 1151.8,1274.6 1152.5,1279.1 1153.5,1283.7 1154.2,1284.9 1155.5,1283.3
1156.7,1280.3 1157.5,1277.6 1158.5,1273.2 1159.7,1268 1160.5,1264.9 1161.5,1261.2 1162.5,1258 1163.1,1256.7
1163.5,1256 1164.5,1254.7 1165.5,1253.6 1166.4,1252.5 1167.5,1251 1168.5,1249.3 1168.9,1248.4 1169.5,1246.5
1170.7,1240.7 1171.5,1235.1 1172.4,1227.7 1173.5,1219.5 1174.5,1210.8 1175.4,1200.1 1176.5,1183.9
1177.5,1168.6 1178.5,1151.3 1179.5,1130 1180.5,1103.7 1181.5,1070.9 1181.9,1058.5 1182.5,1041.5 1183.8,1003.3
1184.5,974.3 1185,953.1 1185.5,940.1 1186.5,917.9 1187.7,902.9 1188.7,916.9 1189.5,938.1 1190,953.1
1190.5,974.6 1191.2,1003.3 1192.5,1045.5 1192.9,1058.5 1193.5,1079.4 1194.5,1114.9 1195,1130 1195.5,1148.1
1196.5,1180.5 1197.7,1210.1 1198.7,1226.7 1199.5,1243.4 1200.5,1256 1201.5,1268.5 1202.2,1274.6 1203.5,1281.9
1204.7,1284.9 1205.5,1284.6 1206.5,1283.2 1207.5,1281.3 1208,1280.3 1208.5,1278.9 1209.5,1274.7 1210.5,1270
1211,1268 1211.5,1266.1 1212.5,1262.3 1213.5,1258.9 1214.4,1256.7 1215.5,1255.1 1216.5,1254 1217.7,1252.5
1218.5,1251.4 1219.5,1249.8 1220.2,1248.4 1221.5,1243.3 1222,1240.7 1222.5,1237.5 1223.7,1227.7 1224.5,1221.7
1225.8,1210.8 1226.7,1200.1 1227.5,1188.2 1228.5,1173.4 1229.5,1156.8 1230.8,1130 1231.5,1113.1 1232.5,1081.1
1233.2,1058.5 1234.5,1019.2 1235.1,999.3 1235.5,983.3 1236.3,949.1 1237.8,913.9 1238.5,902.5 1239,898.9
1239.5,903.6 1240,912.9 1240.5,924.9 1241.2,949.1 1242.5,999.3 1243.5,1034.6 1244.2,1058.5 1245.5,1104.6
1246.2,1130 1247.5,1171.1 1248.5,1200 1249,1210.1 1249.5,1219 1250,1226.7 1250.8,1243.4 1251.8,1256
1252.5,1265.1 1253.5,1274.6 1254.5,1280.4 1255.5,1284.3 1256,1284.9 1256.5,1284.7 1257.5,1283.4 1258.5,1281.4
1259,1280.3 1259.5,1278.8 1260.5,1274.7 1261.5,1270 1262,1268 1262.5,1266.1 1263.5,1262.3 1264.5,1258.9
1265.4,1256.7 1266.5,1255.1 1267.5,1254 1268.7,1252.5 1269.5,1251.4 1270.5,1249.8 1271.2,1248.4 1272.5,1243.3
1273,1240.7 1273.5,1237.5 1274.7,1227.7 1275.5,1221.7 1276.8,1210.8 1277.7,1200.1 1278.5,1188.2 1279.5,1173.4
1280.5,1156.8 1281.8,1130 1282.5,1113.1 1283.5,1081.3 1284.2,1058.5 1285.5,1017.6 1286.1,997 1286.5,980.8
1287.3,946.8 1288.8,911.5 1289.5,900.2 1290,896.6 1290.5,901.2 1291,910.5 1291.5,922.6 1292.2,946.8 1293.5,997
1294.5,1033.7 1295.2,1058.5 1296.5,1104.8 1297.2,1130 1298.5,1171.1 1299.5,1200 1300,1210.1 1300.5,1219
1301,1226.7 1301.8,1243.4 1302.8,1256 1303.5,1265.1 1304.5,1274.6 1305.5,1280.4 1306.5,1284.3 1307,1284.9
1307.5,1284.8 1308.5,1283.8 1309.5,1282.2 1310.5,1280.3 1311.5,1277 1312.5,1272.3 1313.5,1268 1314.5,1264.2
1315.5,1260.5 1316.5,1257.5 1316.9,1256.7 1317.5,1255.7 1318.5,1254.5 1319.5,1253.4 1320.2,1252.5
1321.5,1250.7 1322.7,1248.4 1323.5,1245.6 1324.5,1240.7 1325.5,1233.5 1326.2,1227.7 1327.5,1217.9
1328.3,1210.8 1329.2,1200.1 1330.5,1181 1331.5,1165.3 1332.5,1147.5 1333.3,1130 1334.5,1097.8 1335.7,1058.5
1336.5,1033.3 1337.6,996.3 1338.8,946.1 1339.5,927.8 1340.3,910.9 1341.5,895.9 1342.5,909.9 1343.8,946.1
1344.5,975.8 1345,996.3 1345.5,1015.1 1346.7,1058.5 1347.5,1087.2 1348.8,1130 1349.5,1154.7 1350.5,1186.4
1351.5,1210.1 1352.5,1226.7 1353.3,1243.4 1354.2,1256 1355.5,1270.6 1356,1274.6 1356.5,1277.6 1357.5,1282.8
1358.5,1284.9 1359.5,1284.5 1360.5,1283.3 1361.5,1281.7 1362.2,1280.3 1363.5,1275.9 1364.5,1271.2 1365.2,1268
1366.5,1263.2 1367.5,1259.6 1368.7,1256.7 1369.5,1255.4 1370.5,1254.2 1371.5,1253.1 1372,1252.5 1372.5,1251.7
1373.5,1250.3 1374.5,1248.4 1375.5,1244.5 1376.2,1240.7 1377.5,1231.4 1378,1227.7 1378.5,1223.6 1379.5,1215.9
1380,1210.8 1380.5,1205.5 1380.9,1200.1 1381.5,1191.8 1382.5,1177.2 1383.5,1161.1 1384.5,1142.6 1385.1,1130
1385.5,1120.1 1386.5,1089.6 1387.5,1058.5 1388.5,1025.7 1389.3,997 1390.6,946.8 1391.5,922.4 1392,911.5
1392.5,903.9 1393.2,896.6 1394.2,910.5 1395.5,946.8 1396.8,997 1397.5,1024.7 1398.5,1058.5 1399.5,1096
1400.5,1130 1401.5,1163 1402.5,1193.5 1403.2,1210.1 1404.2,1226.7 1405,1243.4 1405.5,1249.9 1406,1256
1406.5,1262.1 1407.8,1274.6 1408.5,1279.1 1409.5,1283.7 1410.2,1284.9 1411.5,1284 1412.5,1282.4 1413.5,1280.3
1414.5,1277 1415.5,1272.3 1416.5,1268 1417.5,1264.2 1418.5,1260.5 1419.5,1257.5 1419.9,1256.7 1420.5,1255.7
1421.5,1254.5 1422.5,1253.4 1423.2,1252.5 1424.5,1250.7 1425.7,1248.4 1426.5,1245.6 1427.5,1240.7
1428.5,1233.5 1429.2,1227.7 1430.5,1217.9 1431.3,1210.8 1432.2,1200.1 1433.5,1181 1434.5,1165.3 1435.5,1147.5
1436.3,1130 1437.5,1097.6 1438.7,1058.5 1439.5,1034.5 1440.6,999.3 1441.8,949.1 1442.5,930.8 1443.3,913.9
1444.5,898.9 1445.5,912.9 1446.8,949.1 1447.5,978.9 1448,999.3 1448.5,1017.4 1449.7,1058.5 1450.5,1086.9
1451.8,1130 1452.5,1154.7 1453.5,1186.4 1454.5,1210.1 1455.5,1226.7 1456.3,1243.4 1457.2,1256 1458.5,1270.6
1459,1274.6 1459.5,1277.6 1460.5,1282.8 1461.5,1284.9 1462.5,1284.4 1463.5,1283 1464.5,1281.1 1464.9,1280.3
1465.5,1278.6 1466.5,1274.3 1467.5,1269.6 1467.9,1268 1468.5,1265.7 1469.5,1261.9 1470.5,1258.6 1471.3,1256.7
1472.5,1254.9 1473.5,1253.9 1474.6,1252.5 1475.5,1251.3 1476.5,1249.7 1477.1,1248.4 1477.5,1247.2
1478.5,1242.8 1478.9,1240.7 1479.5,1236.7 1480.6,1227.7 1481.5,1221 1482.7,1210.8 1483.6,1200.1 1484.5,1186.8
1485.5,1171.8 1486.5,1155 1487.8,1130 1488.5,1110 1489.5,1077.5 1490.1,1058.5 1490.5,1046.9 1491.5,1018.4
1492,1002.3 1492.5,982.1 1493.2,952.1 1494.7,916.9 1495.5,904.3 1495.9,901.9 1496.5,908.3 1496.9,915.9
1497.5,930.9 1498.2,952.1 1499.4,1002.3 1500.5,1038.9 1501.1,1058.5 1501.5,1072.4 1502.5,1108 1503.2,1130
1504.5,1174.2 1505.5,1202.5 1505.9,1210.1 1506.5,1220.4 1506.9,1226.7 1507.7,1243.4 1508.7,1256 1509.5,1266.3
1510.4,1274.6 1511.5,1281 1512.5,1284.6 1512.9,1284.9 1513.5,1284.5 1514.5,1282.2 1515.2,1280.3 1516.5,1275.4
1517.5,1270.9 1518.2,1268 1519.5,1263 1520.5,1259.5 1521.6,1256.7 1522.5,1255.3 1523.5,1254.2 1524.5,1253.1
1524.9,1252.5 1525.5,1251.7 1526.5,1250.2 1527.4,1248.4 1528.5,1244.3 1529.2,1240.7 1530.5,1231 1530.9,1227.7
1531.5,1223.2 1532.5,1215.4 1533,1210.8 1533.5,1204.9 1533.9,1200.1 1534.5,1191.1 1535.5,1176.5 1536.5,1160.3
1537.5,1141.6 1538,1130 1538.5,1118.7 1539.5,1087.4 1540.4,1058.5 1541.5,1027.8 1542.3,1003.3 1543.5,953.1
1544.5,927.6 1545,917.9 1545.5,909.4 1546.2,902.9 1547.2,916.9 1548.5,953.1 1549.7,1003.3 1550.5,1029.9
1551.4,1058.5 1552.5,1097.3 1553.5,1130 1554.5,1164.6 1555.5,1194.8 1556.2,1210.1 1557.2,1226.7 1558,1243.4
1558.5,1250.5 1559,1256 1559.5,1262.7 1560.7,1274.6 1561.5,1279.4 1562.5,1283.8 1563.2,1284.9 1564.5,1283.7
1565.5,1281.7 1566.1,1280.3 1566.5,1279.2 1567.5,1275.1 1568.5,1270.4 1569.1,1268 1569.5,1266.5 1570.5,1262.6
1571.5,1259.2 1572.5,1256.7 1573.5,1255.2 1574.5,1254.1 1575.8,1252.5 1576.5,1251.5 1577.5,1250 1578.3,1248.4
1579.5,1243.8 1580.1,1240.7 1580.5,1238.2 1581.8,1227.7 1582.5,1222.5 1583.5,1214.6 1583.9,1210.8
1584.8,1200.1 1585.5,1189.7 1586.5,1174.9 1587.5,1158.5 1588.5,1139.6 1588.9,1130 1589.5,1115.9 1590.5,1084.4
1591.3,1058.5 1592.5,1022.8 1593.2,1000 1594.4,949.8 1595.5,922.1 1595.9,914.5 1596.5,904.6 1597.1,899.6
1597.5,902.7 1598.1,913.5 1598.5,922.8 1599.3,949.8 1600.6,1000 1601.5,1031.5 1602.3,1058.5 1603.5,1101.1
1604.3,1130 1605.5,1167.9 1606.5,1197.5 1607,1210.1 1607.5,1217.6 1608.1,1226.7 1608.5,1235.2 1608.9,1243.4
1609.8,1256 1610.5,1263.9 1611.6,1274.6 1612.5,1279.9 1613.5,1284.1 1614.1,1284.9 1614.5,1284.8 1615.5,1283.9
1616.5,1282.3 1617.5,1280.3 1618.5,1277 1619.5,1272.3 1620.5,1268 1621.5,1264.2 1622.5,1260.5 1623.5,1257.5
1623.9,1256.7 1624.5,1255.7 1625.5,1254.5 1626.5,1253.4 1627.2,1252.5 1628.5,1250.7 1629.7,1248.4
1630.5,1245.6 1631.5,1240.7 1632.5,1233.5 1633.2,1227.7 1634.5,1217.9 1635.3,1210.8 1636.2,1200.1 1637.5,1181
1638.5,1165.3 1639.5,1147.5 1640.3,1130 1641.5,1097.8 1642.7,1058.5 1643.5,1033.6 1644.6,997 1645.8,946.8
1646.5,928.5 1647.3,911.5 1648.5,896.6 1649.5,910.5 1650.8,946.8 1651.5,976.5 1652,997 1652.5,1015.6
1653.7,1058.5 1654.5,1087.1 1655.8,1130 1656.5,1154.7 1657.5,1186.4 1658.5,1210.1 1659.5,1226.7 1660.3,1243.4
1661.2,1256 1662.5,1270.6 1663,1274.6 1663.5,1277.6 1664.5,1282.8 1665.5,1284.9 1666.5,1284.4 1667.5,1283.1
1668.5,1281.3 1669,1280.3 1669.5,1278.9 1670.5,1274.7 1671.5,1270 1672,1268 1672.5,1266.1 1673.5,1262.3
1674.5,1258.9 1675.4,1256.7 1676.5,1255.1 1677.5,1254 1678.7,1252.5 1679.5,1251.4 1680.5,1249.8 1681.2,1248.4
1682.5,1243.3 1683,1240.7 1683.5,1237.5 1684.7,1227.7 1685.5,1221.7 1686.8,1210.8 1687.7,1200.1 1688.5,1188.2
1689.5,1173.4 1690.5,1156.8 1691.8,1130 1692.5,1113.2 1693.5,1081.4 1694.2,1058.5 1695.5,1017.1 1696.1,996.3
1696.5,980.1 1697.3,946.1 1698.8,910.9 1699.5,899.6 1700,895.9 1700.5,900.6 1701,909.9 1701.5,921.9
1702.2,946.1 1703.5,996.3 1704.5,1033.4 1705.2,1058.5 1706.5,1104.8 1707.2,1130 1708.5,1171.1 1709.5,1200
1710,1210.1 1710.5,1219 1711,1226.7 1711.8,1243.4 1712.8,1256 1713.5,1265.1 1714.5,1274.6 1715.5,1280.4
1716.5,1284.3 1717,1284.9 1717.5,1284.8 1718.5,1283.7 1719.5,1281.9 1720.2,1280.3 1721.5,1275.9 1722.5,1271.1
1723.2,1268 1724.5,1263.2 1725.5,1259.6 1726.7,1256.7 1727.5,1255.4 1728.5,1254.2 1729.5,1253.1 1730,1252.5
1730.5,1251.7 1731.5,1250.3 1732.5,1248.4 1733.5,1244.5 1734.2,1240.7 1735.5,1231.4 1736,1227.7 1736.5,1223.6
1737.5,1215.9 1738,1210.8 1738.5,1205.5 1738.9,1200.1 1739.5,1191.8 1740.5,1177.2 1741.5,1161.1 1742.5,1142.6
1743.1,1130 1743.5,1120.1 1744.5,1089.6 1745.5,1058.5 1746.5,1025.7 1747.3,997 1748.6,946.8 1749.5,922.4
1750,911.5 1750.5,903.9 1751.2,896.6 1752.2,910.5 1753.5,946.8 1754.8,997 1755.5,1024.7 1756.5,1058.5
1757.5,1096 1758.5,1130 1759.5,1163 1760.5,1193.5 1761.2,1210.1 1762.2,1226.7 1763,1243.4 1763.5,1249.9
1764,1256 1764.5,1262.1 1765.8,1274.6 1766.5,1279.1 1767.5,1283.7 1768.2,1284.9 1769.5,1284.3 1770.5,1283
1771.5,1281.2 1772,1280.3 1772.5,1278.9 1773.5,1274.8 1774.5,1270 1775,1268 1775.5,1266.1 1776.5,1262.3
1777.5,1258.9 1778.4,1256.7 1779.5,1255.1 1780.5,1254 1781.7,1252.5 1782.5,1251.4 1783.5,1249.8 1784.2,1248.4
1785.5,1243.3 1786,1240.7 1786.5,1237.5 1787.7,1227.7 1788.5,1221.7 1789.8,1210.8 1790.7,1200.1 1791.5,1188.2
1792.5,1173.4 1793.5,1156.8 1794.8,1130 1795.5,1113.1 1796.5,1081.1 1797.2,1058.5 1798.5,1019.2 1799.1,999.3
1799.5,983.3 1800.3,949.1 1801.8,913.9 1802.5,902.5 1803,898.9 1803.5,903.6 1804,912.9 1804.5,924.9
1805.2,949.1 1806.5,999.3 1807.5,1034.6 1808.2,1058.5 1809.5,1104.6 1810.2,1130 1811.5,1171.1 1812.5,1200
1813,1210.1 1813.5,1219 1814,1226.7 1814.8,1243.4 1815.8,1256 1816.5,1265.1 1817.5,1274.6 1818.5,1280.4
1819.5,1284.3 1820,1284.9 1820.5,1284.8 1821.5,1283.7 1822.5,1281.9 1823.2,1280.3 1824.5,1275.9 1825.5,1271.1
1826.2,1268 1827.5,1263.2 1828.5,1259.6 1829.7,1256.7 1830.5,1255.4 1831.5,1254.2 1832.5,1253.1 1833,1252.5
1833.5,1251.7 1834.5,1250.3 1835.5,1248.4 1836.5,1244.5 1837.2,1240.7 1838.5,1231.4 1839,1227.7 1839.5,1223.6
1840.5,1215.9 1841,1210.8 1841.5,1205.5 1841.9,1200.1 1842.5,1191.8 1843.5,1177.2 1844.5,1161.1 1845.5,1142.6
1846.1,1130 1846.5,1120.1 1847.5,1089.2 1848.5,1058.5 1849.5,1028.4 1850.3,1002 1851.6,951.8 1852.5,927.4
1853,916.5 1853.5,908.9 1854.2,901.6 1855.2,915.5 1856.5,951.8 1857.8,1002 1858.5,1027.5 1859.5,1058.5
1860.5,1095.6 1861.5,1130 1862.5,1163 1863.5,1193.5 1864.2,1210.1 1865.2,1226.7 1866,1243.4 1866.5,1249.9
1867,1256 1867.5,1262.1 1868.8,1274.6 1869.5,1279.1 1870.5,1283.7 1871.2,1284.9 1872.5,1284 1873.5,1282.4
1874.5,1280.3 1875.5,1277 1876.5,1272.3 1877.5,1268 1878.5,1264.2 1879.5,1260.5 1880.5,1257.5 1880.9,1256.7
1881.5,1255.7 1882.5,1254.5 1883.5,1253.4 1884.2,1252.5 1885.5,1250.7 1886.7,1248.4 1887.5,1245.6
1888.5,1240.7 1889.5,1233.5"/>
<path class="c2" d="M241.5,1291.2 L242.3,1291.2 243,1291.1 243.8,1290.9 244.5,1290.7 245,1290.6 246,1289.9 246.8,1289.1 247.5,1288
248,1287.3 249.1,1284.6 249.8,1281.9 250.6,1278.9 251,1277.3 252.1,1273.1 252.8,1269.9 253.6,1266.5
254.4,1262.7 255.1,1259 255.9,1254.6 256.6,1250.1 257.4,1245.6 258.1,1241.4 258.9,1236.9 259.6,1232.8
260.3,1229.7 261.1,1226.8 261.9,1224.8 262.6,1225.3 263.3,1227 264.1,1229.8 264.8,1233.6 265.5,1238.4
266.2,1244 267,1250.4 267.7,1257.4 268.4,1264.9 269.2,1272.6 269.9,1280.5 270.6,1287.9 271.3,1284.3 272,1280.5
272.8,1276.7 273.5,1273.1 274.2,1269.6 274.9,1266.3 275.7,1263.4 276.4,1260.8 277.1,1258.7 277.8,1256.9
278.6,1255.7 279.3,1254.9 280,1254.7 280.8,1255 281.5,1255.9 282.3,1257.3 283.1,1259.3 283.8,1261.6
284.6,1264.2 285.4,1267 286.2,1269.9 286.9,1272.6 287.7,1275.1 288.5,1277.1 289.2,1278.6 290,1279.3
290.8,1278.7 291.5,1277.3 292.3,1275.3 293,1272.8 293.8,1269.9 294.5,1266.7 295.3,1263.2 296,1259.4
296.8,1255.5 297.5,1251.5 298.3,1247.5 299.1,1243.5 299.8,1239.6 300.6,1235.8 301.3,1232.1 302.1,1228.8
302.8,1225.7 303.6,1222.9 304.3,1220.5 305.1,1218.5 305.8,1216.9 306.6,1215.7 307.3,1215 308.1,1214.8
308.8,1215.1 309.6,1216.3 310.3,1218.1 311.1,1220.7 311.8,1223.9 312.6,1227.8 313.3,1232.3 314.1,1237.4
314.8,1242.9 315.5,1248.9 316.3,1255.3 317,1261.9 317.8,1268.7 318.5,1275.6 319.3,1282.5 320,1288.9
320.8,1284.5 321.5,1279.7 322.3,1275 323.1,1270.5 323.8,1266.2 324.6,1262.1 325.4,1258.5 326.2,1255.3
326.9,1252.6 327.7,1250.5 328.5,1248.9 329.2,1248 330,1247.7 330.7,1247.9 331.5,1248.7 332.2,1249.9
332.9,1251.5 333.7,1253.6 334.4,1255.9 335.1,1258.6 335.9,1261.5 336.6,1264.4 337.4,1267.5 338.1,1270.4
338.8,1273.3 339.6,1275.9 340.3,1278.2 341,1280 341.8,1281.3 342.5,1281.9 343.2,1281.3 344,1280 344.8,1278
345.5,1275.7 346.2,1272.9 347,1269.9 347.8,1266.6 348.5,1263.2 349.2,1259.8 350,1256.3 350.8,1252.9
351.5,1249.7 352.2,1246.7 353,1244 353.8,1241.5 354.5,1239.5 355.2,1237.9 356,1236.7 356.8,1236 357.5,1235.7
358.2,1236 359,1236.8 359.7,1238 360.5,1239.8 361.2,1242 362,1244.7 362.7,1247.8 363.4,1251.3 364.2,1255.1
364.9,1259.2 365.7,1263.6 366.4,1268.1 367.2,1272.8 367.9,1277.6 368.7,1282.3 369.4,1286.8 370.2,1283.6
370.9,1280.3 371.7,1277 372.4,1273.8 373.2,1270.7 373.9,1267.8 374.7,1265.2 375.5,1262.8 376.2,1260.7
377,1258.9 377.7,1257.5 378.5,1256.5 379.2,1255.9 380,1255.7 380.8,1255.9 381.5,1256.7 382.2,1258 383,1259.7
383.8,1261.9 384.5,1264.3 385.2,1267 386,1269.8 386.8,1272.7 387.5,1275.5 388.2,1278.1 389,1280.4 389.8,1282.3
390.5,1283.7 391.2,1284.3 392,1283.9 392.8,1283.2 393.5,1282.1 394.3,1280.8 395.1,1279.2 395.8,1277.5
396.6,1275.6 397.3,1273.6 398.1,1271.5 398.9,1269.4 399.6,1267.2 400.4,1265.1 401.1,1263.1 401.9,1261.2
402.7,1259.3 403.4,1257.6 404.2,1256.1 404.9,1254.8 405.7,1253.7 406.5,1252.8 407.2,1252.2 408,1251.8
408.8,1251.7 409.5,1251.8 410.2,1252.3 411,1253.2 411.7,1254.3 412.5,1255.7 413.2,1257.4 413.9,1259.4
414.7,1261.6 415.4,1264.1 416.2,1266.7 416.9,1269.5 417.6,1272.4 418.4,1275.4 419.1,1278.4 419.9,1281.4
420.6,1284.3 421.4,1282.2 422.1,1280.1 422.9,1278 423.6,1275.9 424.4,1273.8 425.1,1271.9 425.9,1270.1
426.6,1268.4 427.4,1267 428.1,1265.7 428.9,1264.6 429.6,1263.8 430.4,1263.2 431.1,1262.8 431.9,1262.7
432.6,1262.9 433.4,1263.5 434.1,1264.4 434.9,1265.7 435.6,1267.3 436.4,1269.2 437.1,1271.2 437.9,1273.4
438.6,1275.5 439.4,1277.6 440.1,1279.6 440.9,1281.3 441.6,1282.8 442.4,1283.8 443.1,1284.3 443.8,1283.9
444.6,1283 445.3,1281.7 446.1,1280.2 446.8,1278.4 447.6,1276.4 448.3,1274.2 449.1,1271.9 449.8,1269.5
450.6,1267.1 451.3,1264.7 452,1262.4 452.8,1260.1 453.5,1258 454.3,1256 455,1254.3 455.8,1252.7 456.5,1251.4
457.3,1250.4 458,1249.6 458.8,1249.2 459.5,1249 460.2,1249.2 461,1249.7 461.7,1250.4 462.4,1251.5 463.1,1252.9
463.9,1254.6 464.6,1256.5 465.3,1258.7 466.1,1261.1 466.8,1263.7 467.5,1266.5 468.3,1269.4 469,1272.4
469.7,1275.5 470.4,1278.6 471.2,1281.7 471.9,1284.6 472.7,1281.8 473.4,1278.9 474.2,1276 475,1273.2
475.7,1270.6 476.5,1268.2 477.3,1266.1 478,1264.3 478.8,1262.9 479.6,1261.8 480.3,1261.2 481.1,1261
481.8,1261.1 482.6,1261.6 483.3,1262.3 484.1,1263.2 484.8,1264.4 485.6,1265.8 486.3,1267.4 487.1,1269.1
487.8,1270.9 488.5,1272.8 489.3,1274.6 490,1276.4 490.8,1278.1 491.5,1279.7 492.3,1281 493,1282.1 493.8,1282.9
494.5,1283.3 495.2,1282.9 496,1281.9 496.7,1280.7 497.4,1279.1 498.2,1277.2 498.9,1275.1 499.6,1272.9
500.4,1270.6 501.1,1268.2 501.9,1265.8 502.6,1263.5 503.3,1261.2 504.1,1259 504.8,1257 505.5,1255.1
506.3,1253.5 507,1252.2 507.7,1251.1 508.5,1250.3 509.2,1249.8 509.9,1249.7 510.7,1249.8 511.4,1250.2
512.1,1250.9 512.9,1251.9 513.6,1253.1 514.4,1254.6 515.1,1256.3 515.8,1258.2 516.5,1260.3 517.3,1262.6
518,1265.1 518.8,1267.7 519.5,1270.5 520.2,1273.3 520.9,1276.2 521.7,1279 522.4,1281.9 523.1,1284.6
523.9,1281.8 524.7,1278.9 525.5,1276 526.2,1273.2 527,1270.6 527.8,1268.2 528.5,1266.1 529.3,1264.3 530,1262.9
530.8,1261.8 531.6,1261.2 532.4,1261 533.1,1261.1 533.8,1261.6 534.6,1262.3 535.3,1263.2 536.1,1264.4
536.8,1265.8 537.6,1267.4 538.3,1269.1 539,1270.9 539.8,1272.8 540.5,1274.6 541.3,1276.4 542,1278.1
542.8,1279.7 543.5,1281 544.3,1282.1 545,1282.9 545.8,1283.3 546.5,1282.9 547.2,1281.9 548,1280.7 548.7,1279.1
549.4,1277.2 550.2,1275.1 550.9,1272.9 551.6,1270.6 552.4,1268.2 553.1,1265.8 553.8,1263.5 554.6,1261.2
555.3,1259 556.1,1257 556.8,1255.1 557.5,1253.5 558.3,1252.2 559,1251.1 559.7,1250.3 560.5,1249.8 561.2,1249.7
561.9,1249.8 562.7,1250.2 563.4,1250.9 564.1,1251.9 564.9,1253.1 565.6,1254.6 566.3,1256.3 567.1,1258.2
567.8,1260.3 568.5,1262.6 569.3,1265.1 570,1267.7 570.7,1270.5 571.5,1273.3 572.2,1276.2 572.9,1279
573.7,1281.9 574.4,1284.6 575.2,1281.8 575.9,1278.9 576.7,1276 577.5,1273.2 578.2,1270.6 579,1268.2
579.8,1266.1 580.5,1264.3 581.3,1262.9 582.1,1261.8 582.8,1261.2 583.6,1261 584.3,1261.1 585.1,1261.6
585.8,1262.3 586.6,1263.2 587.3,1264.4 588.1,1265.8 588.8,1267.4 589.6,1269.1 590.3,1270.9 591,1272.8
591.8,1274.6 592.5,1276.4 593.3,1278.1 594,1279.7 594.8,1281 595.5,1282.1 596.3,1282.9 597,1283.3 597.7,1282.9
598.5,1281.9 599.2,1280.7 600,1279.1 600.7,1277.2 601.5,1275.1 602.2,1272.9 603,1270.6 603.7,1268.2
604.5,1265.8 605.2,1263.5 606,1261.2 606.7,1259 607.5,1257 608.2,1255.1 609,1253.5 609.7,1252.2 610.5,1251.1
611.2,1250.3 612,1249.8 612.7,1249.7 613.4,1249.8 614.2,1250.2 614.9,1250.9 615.6,1251.9 616.4,1253.1
617.1,1254.6 617.8,1256.3 618.6,1258.2 619.3,1260.3 620,1262.6 620.8,1265.1 621.5,1267.7 622.2,1270.5
623,1273.3 623.7,1276.2 624.4,1279 625.2,1281.9 625.9,1284.6 626.7,1281.8 627.4,1278.9 628.2,1276 629,1273.2
629.7,1270.6 630.5,1268.2 631.3,1266.1 632,1264.3 632.8,1262.9 633.6,1261.8 634.3,1261.2 635.1,1261
635.8,1261.1 636.6,1261.6 637.3,1262.3 638.1,1263.2 638.8,1264.4 639.6,1265.8 640.3,1267.4 641.1,1269.1
641.8,1270.9 642.5,1272.8 643.3,1274.6 644,1276.4 644.8,1278.1 645.5,1279.7 646.3,1281 647,1282.1 647.8,1282.9
648.5,1283.3 649.2,1282.9 650,1281.9 650.7,1280.7 651.4,1279.1 652.2,1277.2 652.9,1275.1 653.6,1272.9
654.4,1270.6 655.1,1268.2 655.9,1265.8 656.6,1263.5 657.3,1261.2 658.1,1259 658.8,1257 659.5,1255.1
660.3,1253.5 661,1252.2 661.7,1251.1 662.5,1250.3 663.2,1249.8 664,1249.7 664.7,1249.8 665.4,1250.2
666.2,1250.9 666.9,1251.9 667.6,1253.1 668.4,1254.6 669.1,1256.3 669.8,1258.2 670.5,1260.3 671.3,1262.6
672,1265.1 672.8,1267.7 673.5,1270.5 674.2,1273.3 675,1276.2 675.7,1279 676.4,1281.9 677.1,1284.6 677.9,1281.8
678.7,1278.9 679.5,1276 680.2,1273.2 681,1270.6 681.8,1268.2 682.5,1266.1 683.3,1264.3 684,1262.9 684.8,1261.8
685.6,1261.2 686.4,1261 687.1,1261.1 687.8,1261.6 688.6,1262.3 689.3,1263.2 690.1,1264.4 690.8,1265.8
691.6,1267.4 692.3,1269.1 693,1270.9 693.8,1272.8 694.5,1274.6 695.3,1276.4 696,1278.1 696.8,1279.7 697.5,1281
698.3,1282.1 699,1282.9 699.8,1283.3 700.5,1282.9 701.2,1282 702,1280.9 702.7,1279.4 703.5,1277.6 704.2,1275.7
705,1273.7 705.7,1271.5 706.5,1269.2 707.2,1266.9 708,1264.6 708.7,1262.4 709.5,1260.3 710.2,1258.2 711,1256.4
711.7,1254.7 712.5,1253.2 713.2,1252 714,1251 714.7,1250.3 715.5,1249.8 716.2,1249.7 716.9,1249.8 717.7,1250.2
718.4,1250.9 719.1,1251.9 719.9,1253.1 720.6,1254.6 721.3,1256.3 722.1,1258.2 722.8,1260.3 723.5,1262.6
724.3,1265.1 725,1267.7 725.7,1270.5 726.5,1273.3 727.2,1276.2 727.9,1279 728.7,1281.9 729.4,1284.6
730.2,1281.8 730.9,1278.9 731.7,1276 732.5,1273.2 733.2,1270.6 734,1268.2 734.8,1266.1 735.5,1264.3
736.3,1262.9 737.1,1261.8 737.8,1261.2 738.6,1261 739.3,1261.1 740.1,1261.6 740.8,1262.3 741.6,1263.2
742.3,1264.4 743.1,1265.8 743.8,1267.4 744.6,1269.1 745.3,1270.9 746,1272.8 746.8,1274.6 747.5,1276.4
748.3,1278.1 749,1279.7 749.8,1281 750.5,1282.1 751.3,1282.9 752,1283.3 752.7,1282.8 753.5,1281.8 754.2,1280.4
754.9,1278.7 755.7,1276.7 756.4,1274.5 757.1,1272.1 757.9,1269.7 758.6,1267.1 759.4,1264.6 760.1,1262.2
760.8,1259.8 761.6,1257.7 762.3,1255.7 763,1253.9 763.8,1252.4 764.5,1251.2 765.2,1250.4 766,1249.9
766.7,1249.7 767.4,1249.8 768.2,1250.2 768.9,1250.9 769.6,1251.9 770.4,1253.1 771.1,1254.6 771.8,1256.3
772.6,1258.2 773.3,1260.3 774,1262.6 774.8,1265.1 775.5,1267.7 776.2,1270.5 777,1273.3 777.7,1276.2 778.4,1279
779.2,1281.9 779.9,1284.6 780.7,1281.8 781.4,1278.9 782.2,1276 783,1273.2 783.7,1270.6 784.5,1268.2
785.3,1266.1 786,1264.3 786.8,1262.9 787.6,1261.8 788.3,1261.2 789.1,1261 789.8,1261.1 790.6,1261.6
791.3,1262.3 792.1,1263.2 792.8,1264.4 793.6,1265.8 794.3,1267.4 795.1,1269.1 795.8,1270.9 796.5,1272.8
797.3,1274.6 798,1276.4 798.8,1278.1 799.5,1279.7 800.3,1281 801,1282.1 801.8,1282.9 802.5,1283.3 803.2,1282.8
804,1281.8 804.7,1280.4 805.4,1278.7 806.2,1276.7 806.9,1274.5 807.6,1272.1 808.4,1269.7 809.1,1267.1
809.9,1264.6 810.6,1262.2 811.3,1259.8 812.1,1257.7 812.8,1255.7 813.5,1253.9 814.3,1252.4 815,1251.2
815.7,1250.4 816.5,1249.9 817.2,1249.7 817.9,1249.8 818.7,1250.2 819.4,1250.9 820.1,1251.9 820.9,1253.1
821.6,1254.6 822.3,1256.3 823.1,1258.2 823.8,1260.3 824.5,1262.6 825.3,1265.1 826,1267.7 826.7,1270.5
827.5,1273.3 828.2,1276.2 828.9,1279 829.7,1281.9 830.4,1284.6 831.2,1281.8 831.9,1278.9 832.7,1276
833.5,1273.2 834.2,1270.6 835,1268.2 835.8,1266.1 836.5,1264.3 837.3,1262.9 838.1,1261.8 838.8,1261.2
839.6,1261 840.3,1261.1 841.1,1261.6 841.8,1262.3 842.6,1263.2 843.3,1264.4 844.1,1265.8 844.8,1267.4
845.6,1269.1 846.3,1270.9 847,1272.8 847.8,1274.6 848.5,1276.4 849.3,1278.1 850,1279.7 850.8,1281 851.5,1282.1
852.3,1282.9 853,1283.3 853.7,1282.9 854.5,1281.9 855.2,1280.7 856,1279.1 856.7,1277.2 857.5,1275.1
858.2,1272.9 859,1270.6 859.7,1268.2 860.5,1265.8 861.2,1263.5 862,1261.2 862.7,1259 863.5,1257 864.2,1255.1
865,1253.5 865.7,1252.2 866.5,1251.1 867.2,1250.3 868,1249.8 868.7,1249.7 869.4,1249.8 870.2,1250.2
870.9,1250.9 871.6,1251.9 872.4,1253.1 873.1,1254.6 873.8,1256.3 874.6,1258.2 875.3,1260.3 876,1262.6
876.8,1265.1 877.5,1267.7 878.2,1270.5 879,1273.3 879.7,1276.2 880.4,1279 881.2,1281.9 881.9,1284.6
882.7,1281.8 883.4,1278.9 884.2,1276 885,1273.2 885.7,1270.6 886.5,1268.2 887.3,1266.1 888,1264.3 888.8,1262.9
889.6,1261.8 890.3,1261.2 891.1,1261 891.8,1261.1 892.6,1261.6 893.3,1262.3 894.1,1263.2 894.8,1264.4
895.6,1265.8 896.3,1267.4 897.1,1269.1 897.8,1270.9 898.5,1272.8 899.3,1274.6 900,1276.4 900.8,1278.1
901.5,1279.7 902.3,1281 903,1282.1 903.8,1282.9 904.5,1283.3 905.2,1282.9 906,1281.9 906.7,1280.7 907.4,1279.1
908.2,1277.2 908.9,1275.1 909.6,1272.9 910.4,1270.6 911.1,1268.2 911.9,1265.8 912.6,1263.5 913.3,1261.2
914.1,1259 914.8,1257 915.5,1255.1 916.3,1253.5 917,1252.2 917.7,1251.1 918.5,1250.3 919.2,1249.8 920,1249.7
920.7,1249.8 921.4,1250.2 922.2,1250.9 922.9,1251.9 923.6,1253.1 924.4,1254.6 925.1,1256.3 925.8,1258.2
926.5,1260.3 927.3,1262.6 928,1265.1 928.8,1267.7 929.5,1270.5 930.2,1273.3 931,1276.2 931.7,1279 932.4,1281.9
933.1,1284.6 933.9,1281.8 934.7,1278.9 935.5,1276 936.2,1273.2 937,1270.6 937.8,1268.2 938.5,1266.1
939.3,1264.3 940,1262.9 940.8,1261.8 941.6,1261.2 942.4,1261 943.1,1261.1 943.8,1261.6 944.6,1262.3
945.3,1263.2 946.1,1264.4 946.8,1265.8 947.6,1267.4 948.3,1269.1 949,1270.9 949.8,1272.8 950.5,1274.6
951.3,1276.4 952,1278.1 952.8,1279.7 953.5,1281 954.3,1282.1 955,1282.9 955.8,1283.3 956.5,1282.9 957.2,1281.9
958,1280.7 958.7,1279.1 959.4,1277.2 960.2,1275.1 960.9,1272.9 961.6,1270.6 962.4,1268.2 963.1,1265.8
963.8,1263.5 964.6,1261.2 965.3,1259 966.1,1257 966.8,1255.1 967.5,1253.5 968.3,1252.2 969,1251.1 969.7,1250.3
970.5,1249.8 971.2,1249.7 971.9,1249.8 972.7,1250.2 973.4,1250.9 974.1,1251.9 974.9,1253.1 975.6,1254.6
976.3,1256.3 977.1,1258.2 977.8,1260.3 978.5,1262.6 979.3,1265.1 980,1267.7 980.7,1270.5 981.5,1273.3
982.2,1276.2 982.9,1279 983.7,1281.9 984.4,1284.6 985.2,1281.8 985.9,1278.9 986.7,1276 987.5,1273.2
988.2,1270.6 989,1268.2 989.8,1266.1 990.5,1264.3 991.3,1262.9 992.1,1261.8 992.8,1261.2 993.6,1261
994.3,1261.1 995.1,1261.6 995.8,1262.3 996.6,1263.2 997.3,1264.4 998.1,1265.8 998.8,1267.4 999.6,1269.1
1000.3,1270.9 1001,1272.8 1001.8,1274.6 1002.5,1276.4 1003.3,1278.1 1004,1279.7 1004.8,1281 1005.5,1282.1
1006.3,1282.9 1007,1283.3 1007.7,1282.9 1008.5,1281.9 1009.2,1280.7 1009.9,1279.1 1010.7,1277.2 1011.4,1275.1
1012.1,1272.9 1012.9,1270.6 1013.6,1268.2 1014.4,1265.8 1015.1,1263.5 1015.8,1261.2 1016.6,1259 1017.3,1257
1018,1255.1 1018.8,1253.5 1019.5,1252.2 1020.2,1251.1 1021,1250.3 1021.7,1249.8 1022.5,1249.7 1023.2,1249.8
1023.9,1250.2 1024.7,1250.9 1025.4,1251.9 1026.1,1253.1 1026.9,1254.6 1027.6,1256.3 1028.3,1258.2
1029.1,1260.3 1029.8,1262.6 1030.5,1265.1 1031.2,1267.7 1032,1270.5 1032.7,1273.3 1033.5,1276.2 1034.2,1279
1034.9,1281.9 1035.7,1284.6 1036.4,1281.8 1037.2,1278.9 1038,1276 1038.7,1273.2 1039.5,1270.6 1040.2,1268.2
1041,1266.1 1041.8,1264.3 1042.5,1262.9 1043.3,1261.8 1044.1,1261.2 1044.8,1261 1045.6,1261.1 1046.3,1261.6
1047.1,1262.3 1047.8,1263.2 1048.6,1264.4 1049.3,1265.8 1050.1,1267.4 1050.8,1269.1 1051.5,1270.9
1052.3,1272.8 1053,1274.6 1053.8,1276.4 1054.5,1278.1 1055.3,1279.7 1056,1281 1056.8,1282.1 1057.5,1282.9
1058.2,1283.3 1059,1282.9 1059.8,1281.9 1060.5,1280.7 1061.3,1279.1 1062,1277.2 1062.8,1275.1 1063.6,1272.9
1064.3,1270.6 1065.1,1268.2 1065.8,1265.8 1066.6,1263.5 1067.4,1261.2 1068.1,1259 1068.9,1257 1069.6,1255.1
1070.4,1253.5 1071.2,1252.2 1071.9,1251.1 1072.7,1250.3 1073.4,1249.8 1074.2,1249.7 1074.9,1249.8
1075.7,1250.2 1076.4,1250.9 1077.1,1251.9 1077.9,1253.1 1078.6,1254.6 1079.3,1256.3 1080.1,1258.2
1080.8,1260.3 1081.5,1262.6 1082.3,1265.1 1083,1267.7 1083.7,1270.5 1084.5,1273.3 1085.2,1276.2 1085.9,1279
1086.7,1281.9 1087.4,1284.6 1088.2,1281.8 1088.9,1278.9 1089.7,1276 1090.5,1273.2 1091.2,1270.6 1092,1268.2
1092.8,1266.1 1093.5,1264.3 1094.3,1262.9 1095.1,1261.8 1095.8,1261.2 1096.6,1261 1097.3,1261.1 1098.1,1261.6
1098.8,1262.3 1099.6,1263.2 1100.3,1264.4 1101.1,1265.8 1101.8,1267.4 1102.6,1269.1 1103.3,1270.9 1104,1272.8
1104.8,1274.6 1105.5,1276.4 1106.3,1278.1 1107,1279.7 1107.8,1281 1108.5,1282.1 1109.3,1282.9 1110,1283.3
1110.7,1282.9 1111.5,1281.9 1112.2,1280.7 1112.9,1279.1 1113.7,1277.2 1114.4,1275.1 1115.2,1272.9
1115.9,1270.6 1116.6,1268.2 1117.4,1265.8 1118.1,1263.5 1118.8,1261.2 1119.6,1259 1120.3,1257 1121,1255.1
1121.8,1253.5 1122.5,1252.2 1123.2,1251.1 1124,1250.3 1124.7,1249.8 1125.5,1249.7 1126.2,1249.8 1126.9,1250.2
1127.7,1250.9 1128.4,1251.9 1129.1,1253.1 1129.9,1254.6 1130.6,1256.3 1131.3,1258.2 1132.1,1260.3
1132.8,1262.6 1133.5,1265.1 1134.2,1267.7 1135,1270.5 1135.7,1273.3 1136.5,1276.2 1137.2,1279 1137.9,1281.9
1138.7,1284.6 1139.4,1281.8 1140.2,1278.9 1141,1276 1141.7,1273.2 1142.5,1270.6 1143.2,1268.2 1144,1266.1
1144.8,1264.3 1145.5,1262.9 1146.3,1261.8 1147.1,1261.2 1147.8,1261 1148.6,1261.1 1149.3,1261.6 1150.1,1262.3
1150.8,1263.2 1151.6,1264.4 1152.3,1265.8 1153.1,1267.4 1153.8,1269.1 1154.5,1270.9 1155.3,1272.8 1156,1274.6
1156.8,1276.4 1157.5,1278.1 1158.3,1279.7 1159,1281 1159.8,1282.1 1160.5,1282.9 1161.2,1283.3 1162,1282.8
1162.7,1281.8 1163.4,1280.4 1164.2,1278.7 1164.9,1276.7 1165.6,1274.5 1166.4,1272.1 1167.1,1269.7
1167.8,1267.1 1168.6,1264.6 1169.3,1262.2 1170,1259.8 1170.8,1257.7 1171.5,1255.7 1172.2,1253.9 1173,1252.4
1173.7,1251.2 1174.4,1250.4 1175.2,1249.9 1175.9,1249.7 1176.6,1249.8 1177.4,1250.2 1178.1,1250.9
1178.8,1251.9 1179.6,1253.1 1180.3,1254.6 1181,1256.3 1181.8,1258.2 1182.5,1260.3 1183.2,1262.6 1184,1265.1
1184.7,1267.7 1185.4,1270.5 1186.2,1273.3 1186.9,1276.2 1187.6,1279 1188.4,1281.9 1189.1,1284.6 1189.9,1281.8
1190.6,1278.9 1191.4,1276 1192.2,1273.2 1192.9,1270.6 1193.7,1268.2 1194.5,1266.1 1195.2,1264.3 1196,1262.9
1196.8,1261.8 1197.5,1261.2 1198.3,1261 1199,1261.1 1199.8,1261.6 1200.5,1262.3 1201.3,1263.2 1202,1264.4
1202.8,1265.8 1203.5,1267.4 1204.3,1269.1 1205,1270.9 1205.7,1272.8 1206.5,1274.6 1207.2,1276.4 1208,1278.1
1208.7,1279.7 1209.5,1281 1210.2,1282.1 1211,1282.9 1211.7,1283.3 1212.4,1282.9 1213.2,1281.9 1213.9,1280.7
1214.7,1279.1 1215.4,1277.2 1216.1,1275.1 1216.9,1272.9 1217.6,1270.6 1218.3,1268.2 1219.1,1265.8
1219.8,1263.5 1220.6,1261.2 1221.3,1259 1222,1257 1222.8,1255.1 1223.5,1253.5 1224.2,1252.2 1225,1251.1
1225.7,1250.3 1226.5,1249.8 1227.2,1249.7 1227.9,1249.8 1228.7,1250.2 1229.4,1250.9 1230.1,1251.9
1230.9,1253.1 1231.6,1254.6 1232.3,1256.3 1233.1,1258.2 1233.8,1260.3 1234.5,1262.6 1235.3,1265.1 1236,1267.7
1236.7,1270.5 1237.5,1273.3 1238.2,1276.2 1238.9,1279 1239.7,1281.9 1240.4,1284.6 1241.2,1281.8 1241.9,1278.9
1242.7,1276 1243.5,1273.2 1244.2,1270.6 1245,1268.2 1245.8,1266.1 1246.5,1264.3 1247.3,1262.9 1248.1,1261.8
1248.8,1261.2 1249.6,1261 1250.3,1261.1 1251.1,1261.6 1251.8,1262.3 1252.6,1263.2 1253.3,1264.4 1254.1,1265.8
1254.8,1267.4 1255.6,1269.1 1256.3,1270.9 1257,1272.8 1257.8,1274.6 1258.5,1276.4 1259.3,1278.1 1260,1279.7
1260.8,1281 1261.5,1282.1 1262.3,1282.9 1263,1283.3 1263.8,1282.8 1264.5,1281.8 1265.3,1280.4 1266,1278.7
1266.8,1276.7 1267.6,1274.5 1268.3,1272.1 1269.1,1269.7 1269.8,1267.1 1270.6,1264.6 1271.4,1262.2
1272.1,1259.8 1272.9,1257.7 1273.6,1255.7 1274.4,1253.9 1275.2,1252.4 1275.9,1251.2 1276.7,1250.4
1277.4,1249.9 1278.2,1249.7 1278.9,1249.8 1279.7,1250.2 1280.4,1250.9 1281.1,1251.9 1281.9,1253.1
1282.6,1254.6 1283.3,1256.3 1284.1,1258.2 1284.8,1260.3 1285.5,1262.6 1286.3,1265.1 1287,1267.7 1287.7,1270.5
1288.5,1273.3 1289.2,1276.2 1289.9,1279 1290.7,1281.9 1291.4,1284.6 1292.2,1281.8 1292.9,1278.9 1293.7,1276
1294.5,1273.2 1295.2,1270.6 1296,1268.2 1296.8,1266.1 1297.5,1264.3 1298.3,1262.9 1299.1,1261.8 1299.8,1261.2
1300.6,1261 1301.3,1261.1 1302.1,1261.6 1302.8,1262.3 1303.6,1263.2 1304.3,1264.4 1305.1,1265.8 1305.8,1267.4
1306.6,1269.1 1307.3,1270.9 1308,1272.8 1308.8,1274.6 1309.5,1276.4 1310.3,1278.1 1311,1279.7 1311.8,1281
1312.5,1282.1 1313.3,1282.9 1314,1283.3 1314.7,1282.9 1315.5,1281.9 1316.2,1280.7 1317,1279.1 1317.7,1277.2
1318.5,1275.1 1319.2,1272.9 1320,1270.6 1320.7,1268.2 1321.5,1265.8 1322.2,1263.5 1323,1261.2 1323.7,1259
1324.5,1257 1325.2,1255.1 1326,1253.5 1326.7,1252.2 1327.5,1251.1 1328.2,1250.3 1329,1249.8 1329.7,1249.7
1330.4,1249.8 1331.2,1250.2 1331.9,1250.9 1332.6,1251.9 1333.4,1253.1 1334.1,1254.6 1334.8,1256.3
1335.6,1258.2 1336.3,1260.3 1337,1262.6 1337.8,1265.1 1338.5,1267.7 1339.2,1270.5 1340,1273.3 1340.7,1276.2
1341.4,1279 1342.2,1281.9 1342.9,1284.6 1343.7,1281.8 1344.4,1278.9 1345.2,1276 1346,1273.2 1346.7,1270.6
1347.5,1268.2 1348.3,1266.1 1349,1264.3 1349.8,1262.9 1350.6,1261.8 1351.3,1261.2 1352.1,1261 1352.8,1261.1
1353.6,1261.6 1354.3,1262.3 1355.1,1263.2 1355.8,1264.4 1356.6,1265.8 1357.3,1267.4 1358.1,1269.1
1358.8,1270.9 1359.5,1272.8 1360.3,1274.6 1361,1276.4 1361.8,1278.1 1362.5,1279.7 1363.3,1281 1364,1282.1
1364.8,1282.9 1365.5,1283.3 1366.3,1282.9 1367,1281.9 1367.8,1280.7 1368.5,1279.1 1369.3,1277.2 1370.1,1275.1
1370.8,1272.9 1371.6,1270.6 1372.3,1268.2 1373.1,1265.8 1373.9,1263.5 1374.6,1261.2 1375.4,1259 1376.1,1257
1376.9,1255.1 1377.7,1253.5 1378.4,1252.2 1379.2,1251.1 1379.9,1250.3 1380.7,1249.8 1381.5,1249.7
1382.2,1249.8 1382.9,1250.2 1383.7,1250.9 1384.4,1251.9 1385.1,1253.1 1385.9,1254.6 1386.6,1256.3
1387.3,1258.2 1388.1,1260.3 1388.8,1262.6 1389.5,1265.1 1390.2,1267.7 1391,1270.5 1391.7,1273.3 1392.5,1276.2
1393.2,1279 1393.9,1281.9 1394.7,1284.6 1395.4,1281.8 1396.2,1278.9 1397,1276 1397.7,1273.2 1398.5,1270.6
1399.2,1268.2 1400,1266.1 1400.8,1264.3 1401.5,1262.9 1402.3,1261.8 1403.1,1261.2 1403.8,1261 1404.6,1261.1
1405.3,1261.6 1406.1,1262.3 1406.8,1263.2 1407.6,1264.4 1408.3,1265.8 1409.1,1267.4 1409.8,1269.1
1410.5,1270.9 1411.3,1272.8 1412,1274.6 1412.8,1276.4 1413.5,1278.1 1414.3,1279.7 1415,1281 1415.8,1282.1
1416.5,1282.9 1417.2,1283.3 1418,1282.9 1418.7,1281.9 1419.5,1280.7 1420.2,1279.1 1420.9,1277.2 1421.7,1275.1
1422.4,1272.9 1423.1,1270.6 1423.9,1268.2 1424.6,1265.8 1425.3,1263.5 1426.1,1261.2 1426.8,1259 1427.5,1257
1428.3,1255.1 1429,1253.5 1429.8,1252.2 1430.5,1251.1 1431.2,1250.3 1432,1249.8 1432.7,1249.7 1433.4,1249.8
1434.2,1250.2 1434.9,1250.9 1435.6,1251.9 1436.4,1253.1 1437.1,1254.6 1437.8,1256.3 1438.6,1258.2
1439.3,1260.3 1440,1262.6 1440.8,1265.1 1441.5,1267.7 1442.2,1270.5 1443,1273.3 1443.7,1276.2 1444.4,1279
1445.2,1281.9 1445.9,1284.6 1446.7,1281.8 1447.4,1278.9 1448.2,1276 1449,1273.2 1449.7,1270.6 1450.5,1268.2
1451.3,1266.1 1452,1264.3 1452.8,1262.9 1453.6,1261.8 1454.3,1261.2 1455.1,1261 1455.8,1261.1 1456.6,1261.6
1457.3,1262.3 1458.1,1263.2 1458.8,1264.4 1459.6,1265.8 1460.3,1267.4 1461.1,1269.1 1461.8,1270.9
1462.5,1272.8 1463.3,1274.6 1464,1276.4 1464.8,1278.1 1465.5,1279.7 1466.3,1281 1467,1282.1 1467.8,1282.9
1468.5,1283.3 1469.2,1282.9 1470,1281.9 1470.7,1280.7 1471.5,1279.1 1472.2,1277.2 1473,1275.1 1473.7,1272.9
1474.4,1270.6 1475.2,1268.2 1475.9,1265.8 1476.7,1263.5 1477.4,1261.2 1478.2,1259 1478.9,1257 1479.6,1255.1
1480.4,1253.5 1481.1,1252.2 1481.9,1251.1 1482.6,1250.3 1483.4,1249.8 1484.1,1249.7 1484.8,1249.8
1485.6,1250.2 1486.3,1250.9 1487,1251.9 1487.8,1253.1 1488.5,1254.6 1489.2,1256.3 1490,1258.2 1490.7,1260.3
1491.4,1262.6 1492.2,1265.1 1492.9,1267.7 1493.6,1270.5 1494.4,1273.3 1495.1,1276.2 1495.8,1279 1496.6,1281.9
1497.3,1284.6 1498.1,1281.8 1498.8,1278.9 1499.6,1276 1500.4,1273.2 1501.1,1270.6 1501.9,1268.2 1502.7,1266.1
1503.4,1264.3 1504.2,1262.9 1505,1261.8 1505.7,1261.2 1506.5,1261 1507.2,1261.1 1508,1261.6 1508.7,1262.3
1509.5,1263.2 1510.2,1264.4 1511,1265.8 1511.7,1267.4 1512.5,1269.1 1513.2,1270.9 1513.9,1272.8 1514.7,1274.6
1515.4,1276.4 1516.2,1278.1 1516.9,1279.7 1517.7,1281 1518.4,1282.1 1519.2,1282.9 1519.9,1283.3 1520.7,1282.8
1521.4,1281.7 1522.2,1280.2 1523,1278.3 1523.7,1276.1 1524.5,1273.8 1525.2,1271.2 1526,1268.6 1526.8,1266
1527.5,1263.3 1528.3,1260.8 1529.1,1258.4 1529.8,1256.3 1530.6,1254.4 1531.3,1252.7 1532.1,1251.4
1532.9,1250.5 1533.6,1249.9 1534.4,1249.7 1535.1,1249.8 1535.9,1250.2 1536.6,1250.9 1537.3,1251.9
1538.1,1253.1 1538.8,1254.6 1539.5,1256.3 1540.3,1258.2 1541,1260.3 1541.7,1262.6 1542.5,1265.1 1543.2,1267.7
1543.9,1270.5 1544.7,1273.3 1545.4,1276.2 1546.1,1279 1546.9,1281.9 1547.6,1284.6 1548.4,1281.8 1549.1,1278.9
1549.9,1276 1550.7,1273.2 1551.4,1270.6 1552.2,1268.2 1553,1266.1 1553.7,1264.3 1554.5,1262.9 1555.3,1261.8
1556,1261.2 1556.8,1261 1557.5,1261.1 1558.3,1261.6 1559,1262.3 1559.8,1263.2 1560.5,1264.4 1561.3,1265.8
1562,1267.4 1562.8,1269.1 1563.5,1270.9 1564.2,1272.8 1565,1274.6 1565.7,1276.4 1566.5,1278.1 1567.2,1279.7
1568,1281 1568.7,1282.1 1569.5,1282.9 1570.2,1283.3 1571,1282.8 1571.7,1281.8 1572.5,1280.4 1573.2,1278.7
1574,1276.7 1574.7,1274.5 1575.5,1272.1 1576.2,1269.7 1577,1267.1 1577.8,1264.6 1578.5,1262.2 1579.3,1259.8
1580,1257.7 1580.8,1255.7 1581.5,1253.9 1582.3,1252.4 1583,1251.2 1583.8,1250.4 1584.5,1249.9 1585.3,1249.7
1586,1249.8 1586.8,1250.2 1587.5,1250.9 1588.2,1251.9 1589,1253.1 1589.7,1254.6 1590.4,1256.3 1591.2,1258.2
1591.9,1260.3 1592.6,1262.6 1593.4,1265.1 1594.1,1267.7 1594.8,1270.5 1595.6,1273.3 1596.3,1276.2 1597,1279
1597.8,1281.9 1598.5,1284.6 1599.3,1281.8 1600,1278.9 1600.8,1276 1601.6,1273.2 1602.3,1270.6 1603.1,1268.2
1603.9,1266.1 1604.6,1264.3 1605.4,1262.9 1606.2,1261.8 1606.9,1261.2 1607.7,1261 1608.4,1261.1 1609.2,1261.6
1609.9,1262.3 1610.7,1263.2 1611.4,1264.4 1612.2,1265.8 1612.9,1267.4 1613.7,1269.1 1614.4,1270.9
1615.1,1272.8 1615.9,1274.6 1616.6,1276.4 1617.4,1278.1 1618.1,1279.7 1618.9,1281 1619.6,1282.1 1620.4,1282.9
1621.1,1283.3 1621.8,1282.9 1622.6,1281.9 1623.3,1280.7 1624.1,1279.1 1624.8,1277.2 1625.6,1275.1
1626.3,1272.9 1627,1270.6 1627.8,1268.2 1628.5,1265.8 1629.3,1263.5 1630,1261.2 1630.8,1259 1631.5,1257
1632.2,1255.1 1633,1253.5 1633.7,1252.2 1634.5,1251.1 1635.2,1250.3 1636,1249.8 1636.7,1249.7 1637.4,1249.8
1638.2,1250.2 1638.9,1250.9 1639.6,1251.9 1640.4,1253.1 1641.1,1254.6 1641.8,1256.3 1642.6,1258.2
1643.3,1260.3 1644,1262.6 1644.8,1265.1 1645.5,1267.7 1646.2,1270.5 1647,1273.3 1647.7,1276.2 1648.4,1279
1649.2,1281.9 1649.9,1284.6 1650.7,1281.8 1651.4,1278.9 1652.2,1276 1653,1273.2 1653.7,1270.6 1654.5,1268.2
1655.3,1266.1 1656,1264.3 1656.8,1262.9 1657.6,1261.8 1658.3,1261.2 1659.1,1261 1659.8,1261.1 1660.6,1261.6
1661.3,1262.3 1662.1,1263.2 1662.8,1264.4 1663.6,1265.8 1664.3,1267.4 1665.1,1269.1 1665.8,1270.9
1666.5,1272.8 1667.3,1274.6 1668,1276.4 1668.8,1278.1 1669.5,1279.7 1670.3,1281 1671,1282.1 1671.8,1282.9
1672.5,1283.3 1673.2,1282.9 1674,1281.9 1674.7,1280.7 1675.5,1279.1 1676.2,1277.2 1677,1275.1 1677.7,1272.9
1678.5,1270.6 1679.2,1268.2 1680,1265.8 1680.7,1263.5 1681.5,1261.2 1682.2,1259 1683,1257 1683.7,1255.1
1684.5,1253.5 1685.2,1252.2 1686,1251.1 1686.7,1250.3 1687.5,1249.8 1688.2,1249.7 1688.9,1249.8 1689.7,1250.2
1690.4,1250.9 1691.1,1251.9 1691.9,1253.1 1692.6,1254.6 1693.3,1256.3 1694.1,1258.2 1694.8,1260.3
1695.5,1262.6 1696.3,1265.1 1697,1267.7 1697.7,1270.5 1698.5,1273.3 1699.2,1276.2 1699.9,1279 1700.7,1281.9
1701.4,1284.6 1702.2,1281.8 1702.9,1278.9 1703.7,1276 1704.5,1273.2 1705.2,1270.6 1706,1268.2 1706.8,1266.1
1707.5,1264.3 1708.3,1262.9 1709.1,1261.8 1709.8,1261.2 1710.6,1261 1711.3,1261.1 1712.1,1261.6 1712.8,1262.3
1713.6,1263.2 1714.3,1264.4 1715.1,1265.8 1715.8,1267.4 1716.6,1269.1 1717.3,1270.9 1718,1272.8 1718.8,1274.6
1719.5,1276.4 1720.3,1278.1 1721,1279.7 1721.8,1281 1722.5,1282.1 1723.3,1282.9 1724,1283.3 1724.7,1282.9
1725.5,1281.9 1726.2,1280.7 1726.9,1279.1 1727.7,1277.2 1728.4,1275.1 1729.2,1272.9 1729.9,1270.6
1730.6,1268.2 1731.4,1265.8 1732.1,1263.5 1732.8,1261.2 1733.6,1259 1734.3,1257 1735,1255.1 1735.8,1253.5
1736.5,1252.2 1737.2,1251.1 1738,1250.3 1738.7,1249.8 1739.5,1249.7 1740.2,1249.8 1740.9,1250.2 1741.7,1250.9
1742.4,1251.9 1743.1,1253.1 1743.9,1254.6 1744.6,1256.3 1745.3,1258.2 1746.1,1260.3 1746.8,1262.6
1747.5,1265.1 1748.2,1267.7 1749,1270.5 1749.7,1273.3 1750.5,1276.2 1751.2,1279 1751.9,1281.9 1752.7,1284.6
1753.4,1281.8 1754.2,1278.9 1755,1276 1755.7,1273.2 1756.5,1270.6 1757.2,1268.2 1758,1266.1 1758.8,1264.3
1759.5,1262.9 1760.3,1261.8 1761.1,1261.2 1761.8,1261 1762.6,1261.1 1763.3,1261.6 1764.1,1262.3 1764.8,1263.2
1765.6,1264.4 1766.3,1265.8 1767.1,1267.4 1767.8,1269.1 1768.5,1270.9 1769.3,1272.8 1770,1274.6 1770.8,1276.4
1771.5,1278.1 1772.3,1279.7 1773,1281 1773.8,1282.1 1774.5,1282.9 1775.2,1283.3 1776,1282.9 1776.8,1281.9
1777.5,1280.7 1778.3,1279.1 1779,1277.2 1779.8,1275.1 1780.6,1272.9 1781.3,1270.6 1782.1,1268.2 1782.8,1265.8
1783.6,1263.5 1784.4,1261.2 1785.1,1259 1785.9,1257 1786.6,1255.1 1787.4,1253.5 1788.2,1252.2 1788.9,1251.1
1789.7,1250.3 1790.4,1249.8 1791.2,1249.7 1791.9,1249.8 1792.7,1250.2 1793.4,1250.9 1794.1,1251.9
1794.9,1253.1 1795.6,1254.6 1796.3,1256.3 1797.1,1258.2 1797.8,1260.3 1798.5,1262.6 1799.3,1265.1 1800,1267.7
1800.7,1270.5 1801.5,1273.3 1802.2,1276.2 1802.9,1279 1803.7,1281.9 1804.4,1284.6 1805.2,1281.8 1805.9,1278.9
1806.7,1276 1807.5,1273.2 1808.2,1270.6 1809,1268.2 1809.8,1266.1 1810.5,1264.3 1811.3,1262.9 1812.1,1261.8
1812.8,1261.2 1813.6,1261 1814.3,1261.1 1815.1,1261.6 1815.8,1262.3 1816.6,1263.2 1817.3,1264.4 1818.1,1265.8
1818.8,1267.4 1819.6,1269.1 1820.3,1270.9 1821,1272.8 1821.8,1274.6 1822.5,1276.4 1823.3,1278.1 1824,1279.7
1824.8,1281 1825.5,1282.1 1826.3,1282.9 1827,1283.3 1827.7,1282.9 1828.5,1281.9 1829.2,1280.7 1829.9,1279.1
1830.7,1277.2 1831.4,1275.1 1832.2,1272.9 1832.9,1270.6 1833.6,1268.2 1834.4,1265.8 1835.1,1263.5
1835.8,1261.2 1836.6,1259 1837.3,1257 1838,1255.1 1838.8,1253.5 1839.5,1252.2 1840.2,1251.1 1841,1250.3
1841.7,1249.8 1842.5,1249.7 1843.2,1249.8 1843.9,1250.2 1844.7,1250.9 1845.4,1251.9 1846.1,1253.1
1846.9,1254.6 1847.6,1256.3 1848.3,1258.2 1849.1,1260.3 1849.8,1262.6 1850.5,1265.1 1851.2,1267.7 1852,1270.5
1852.7,1273.3 1853.5,1276.2 1854.2,1279 1854.9,1281.9 1855.7,1284.6 1856.4,1281.8 1857.2,1278.9 1858,1276
1858.7,1273.2 1859.5,1270.6 1860.2,1268.2 1861,1266.1 1861.8,1264.3 1862.5,1262.9 1863.3,1261.8 1864.1,1261.2
1864.8,1261 1865.6,1261.1 1866.3,1261.6 1867.1,1262.3 1867.8,1263.2 1868.6,1264.4 1869.3,1265.8 1870.1,1267.4
1870.8,1269.1 1871.5,1270.9 1872.3,1272.8 1873,1274.6 1873.8,1276.4 1874.5,1278.1 1875.3,1279.7 1876,1281
1876.8,1282.1 1877.5,1282.9 1878.2,1283.3 1879,1282.9 1879.7,1281.9 1880.5,1280.7 1881.2,1279.1 1881.9,1277.2
1882.7,1275.1 1883.4,1272.9 1884.1,1270.6 1884.9,1268.2 1885.6,1265.8 1886.3,1263.5 1887.1,1261.2 1887.8,1259
1888.5,1257 1889.3,1255.1 1889.5,1255.1"/>
</g>
<g id="ticklabels" class="tl">
<text transform="translate(241.5,629) scale(0.95,1)" text-anchor="middle">-2</text>
<text transform="translate(516.2,629) scale(0.95,1)" text-anchor="middle">-1</text>
<text transform="translate(790.8,629) scale(0.95,1)" text-anchor="middle">0</text>
<text transform="translate(1065.5,629) scale(0.95,1)" text-anchor="middle">1</text>
<text transform="translate(1340.2,629) scale(0.95,1)" text-anchor="middle">2</text>
<text transform="translate(1614.8,629) scale(0.95,1)" text-anchor="middle">3</text>
<text transform="translate(1889.5,629) scale(0.95,1)" text-anchor="middle">4</text>
<text transform="translate(218.6,567.1) scale(0.95,1)" text-anchor="end">0</text>
<text transform="translate(218.6,424.9) scale(0.95,1)" text-anchor="end">2</text>
<text transform="translate(218.6,282.7) scale(0.95,1)" text-anchor="end">4</text>
<text transform="translate(218.6,140.5) scale(0.95,1)" text-anchor="end">6</text>
<text transform="translate(241.5,1378) scale(0.95,1)" text-anchor="middle">0</text>
<text transform="translate(571.1,1378) scale(0.95,1)" text-anchor="middle">20</text>
<text transform="translate(900.7,1378) scale(0.95,1)" text-anchor="middle">40</text>
<text transform="translate(1230.3,1378) scale(0.95,1)" text-anchor="middle">60</text>
<text transform="translate(1559.9,1378) scale(0.95,1)" text-anchor="middle">80</text>
<text transform="translate(1889.5,1378) scale(0.95,1)" text-anchor="middle">100</text>
<text transform="translate(218.6,1315.7) scale(0.95,1)" text-anchor="end">0</text>
<text transform="translate(218.6,1149.4) scale(0.95,1)" text-anchor="end">5</text>
<text transform="translate(218.6,983.1) scale(0.95,1)" text-anchor="end">10</text>
<text transform="translate(218.6,816.9) scale(0.95,1)" text-anchor="end">15</text>
</g>
<g id="labels">
<text class="lab"><tspan class="ser" font-size="69.59" x="284.83" y="110.78" textLength="20.23" lengthAdjust="spacingAndGlyphs">(</tspan><tspan class="ser" font-size="62.63" x="305.48" y="110.64" textLength="33.03" lengthAdjust="spacingAndGlyphs">a</tspan><tspan class="ser" font-size="69.59" x="338.04" y="110.78" textLength="20.23" lengthAdjust="spacingAndGlyphs">)</tspan></text>
<text class="lab"><tspan class="ser" font-size="67.49" x="285.48" y="858.73" textLength="19.84" lengthAdjust="spacingAndGlyphs">(</tspan><tspan class="ser" font-size="62.18" x="306.9" y="858.14" textLength="34.48" lengthAdjust="spacingAndGlyphs">b</tspan><tspan class="ser" font-size="67.49" x="341.11" y="858.73" textLength="19.58" lengthAdjust="spacingAndGlyphs">)</tspan></text>
<text><tspan class="ser" font-size="80.13" x="1035.48" y="709.7" textLength="61.09" lengthAdjust="spacingAndGlyphs">Δ</tspan></text>
<text><tspan class="it" font-size="82.23" x="1005.9" y="1458.1" textLength="25.93" lengthAdjust="spacingAndGlyphs">t</tspan><tspan class="ser" font-size="109.87" x="1038" y="1475.13" textLength="29.2" lengthAdjust="spacingAndGlyphs">/</tspan><tspan class="it" font-size="76.36" x="1065.8" y="1458" textLength="50.98" lengthAdjust="spacingAndGlyphs">T</tspan></text>
<text transform="translate(102.75,729) rotate(-90)"><tspan class="ser" font-size="84.54" x="-5.74" y="0.91" textLength="15.27" lengthAdjust="spacingAndGlyphs">|</tspan><tspan class="it" font-size="74.33" x="12.55" y="0.24" textLength="36.18" lengthAdjust="spacingAndGlyphs">a</tspan><tspan class="it" font-size="58.35" x="51.69" y="11.68" textLength="22.58" lengthAdjust="spacingAndGlyphs">ℓ</tspan><tspan class="ser" font-size="84.54" x="80.86" y="0.91" textLength="16.08" lengthAdjust="spacingAndGlyphs">|</tspan><tspan class="ser" font-size="56.64" x="99.03" y="-26.55" textLength="28.06" lengthAdjust="spacingAndGlyphs">2</tspan></text>
</g>
</svg>
</body>
</html>
